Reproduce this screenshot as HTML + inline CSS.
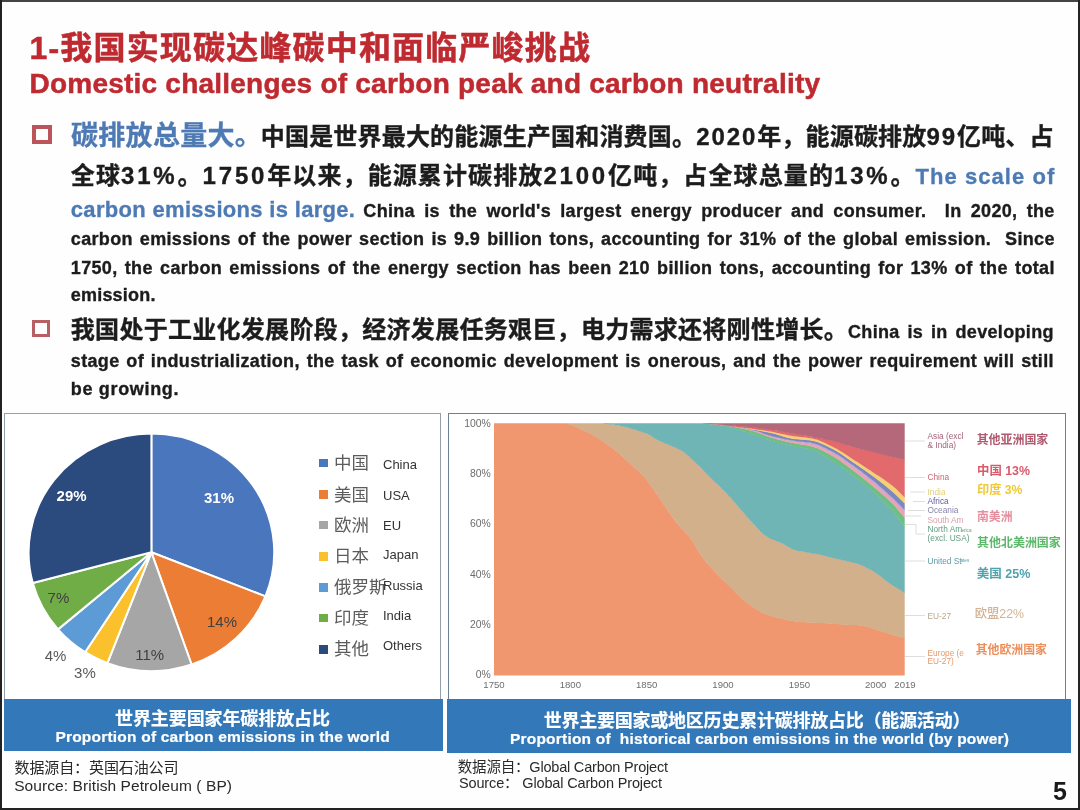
<!DOCTYPE html>
<html lang="zh-CN"><head><meta charset="utf-8"><title>Domestic challenges of carbon peak and carbon neutrality</title>
<style>
html,body{margin:0;padding:0;background:#fff}
body{width:1080px;height:810px;overflow:hidden;font-family:"Liberation Sans","Noto Sans CJK SC",sans-serif}
#slide{position:relative;width:1080px;height:810px;overflow:hidden;background:#fefefe}
#content{position:absolute;left:0;top:0;width:1080px;height:810px;filter:blur(0.4px)}
.ln{position:absolute;margin:0;white-space:pre;line-height:1;font-weight:700;font-family:"Liberation Sans","Noto Sans CJK SC",sans-serif;letter-spacing:var(--ls)}
.dg{letter-spacing:calc(var(--ls) + 1.7px)}
.red{color:#be2a30;-webkit-text-stroke:0.5px #be2a30}.blue{color:#4e7ab4;-webkit-text-stroke:0.3px #4e7ab4}.blk{color:#1c1c1c;-webkit-text-stroke:0.35px #1c1c1c}.wht{color:#fff;-webkit-text-stroke:0.2px #fff}
.ft{color:#2a2a2a;font-weight:400}
.pgn{color:#1a1a1a}
.bul{position:absolute;box-sizing:border-box;width:19.5px;height:19px;border:4px solid #bc5559;background:#fff}
.frame{position:absolute;background:#222}
.panel{position:absolute;box-sizing:border-box;background:#fff}
.banner{position:absolute;background:#3378b9}
svg{position:absolute;left:0;top:0}
svg text{font-family:"Liberation Sans","Noto Sans CJK SC",sans-serif}
.lg{position:absolute;white-space:pre;line-height:1;font-family:"Liberation Sans","Noto Sans CJK SC",sans-serif}
</style></head>
<body>
<div id="slide">
<div id="content">
<div class="panel" style="left:4px;top:413px;width:437px;height:288px;border:1px solid #93a1ae"></div>
<div class="panel" style="left:448px;top:413px;width:618px;height:288px;border:1px solid #6d8196;border-top-width:1.5px"></div>
<div class="banner" style="left:3.5px;top:699px;width:439.5px;height:52px"></div>
<div class="banner" style="left:447px;top:699px;width:624px;height:53.7px"></div>
<svg width="1080" height="810" viewBox="0 0 1080 810">
<path d="M151.40 552.30 L151.40 433.60 A122.80 118.70 0 0 1 265.42 596.38 Z" fill="#4a76be" stroke="#fff" stroke-width="2" stroke-linejoin="round"/>
<path d="M151.40 552.30 L265.42 596.38 A122.80 118.70 0 0 1 191.58 664.47 Z" fill="#ec7d34" stroke="#fff" stroke-width="2" stroke-linejoin="round"/>
<path d="M151.40 552.30 L191.58 664.47 A122.80 118.70 0 0 1 107.39 663.12 Z" fill="#a6a6a6" stroke="#fff" stroke-width="2" stroke-linejoin="round"/>
<path d="M151.40 552.30 L107.39 663.12 A122.80 118.70 0 0 1 85.06 652.19 Z" fill="#fbc12d" stroke="#fff" stroke-width="2" stroke-linejoin="round"/>
<path d="M151.40 552.30 L85.06 652.19 A122.80 118.70 0 0 1 58.02 629.39 Z" fill="#5c9bd5" stroke="#fff" stroke-width="2" stroke-linejoin="round"/>
<path d="M151.40 552.30 L58.02 629.39 A122.80 118.70 0 0 1 32.78 583.02 Z" fill="#70ad47" stroke="#fff" stroke-width="2" stroke-linejoin="round"/>
<path d="M151.40 552.30 L32.78 583.02 A122.80 118.70 0 0 1 151.40 433.60 Z" fill="#2b4a7e" stroke="#fff" stroke-width="2" stroke-linejoin="round"/>
<text x="219.0" y="503.1" text-anchor="middle" font-size="15" font-weight="700" fill="#fff">31%</text>
<text x="71.6" y="500.6" text-anchor="middle" font-size="15" font-weight="700" fill="#fff">29%</text>
<text x="222.0" y="627.4" text-anchor="middle" font-size="15" font-weight="400" fill="#404040">14%</text>
<text x="149.7" y="659.9" text-anchor="middle" font-size="15" font-weight="400" fill="#404040">11%</text>
<text x="58.4" y="603.4" text-anchor="middle" font-size="15" font-weight="400" fill="#404040">7%</text>
<text x="55.5" y="661.0" text-anchor="middle" font-size="15" font-weight="400" fill="#595959">4%</text>
<text x="84.9" y="678.4" text-anchor="middle" font-size="15" font-weight="400" fill="#595959">3%</text>
<polygon points="494.0,423.30 495.5,423.30 497.0,423.30 498.5,423.30 500.0,423.30 501.5,423.30 503.0,423.30 504.5,423.30 506.0,423.30 507.5,423.30 509.0,423.30 510.5,423.30 512.0,423.30 513.5,423.30 515.0,423.30 516.5,423.30 518.0,423.30 519.5,423.30 521.0,423.30 522.5,423.30 524.0,423.30 525.5,423.30 527.0,423.30 528.5,423.30 530.0,423.30 531.5,423.30 533.0,423.30 534.5,423.30 536.0,423.30 537.5,423.30 539.0,423.30 540.5,423.30 542.0,423.30 543.5,423.30 545.0,423.30 546.5,423.30 548.0,423.30 549.5,423.30 551.0,423.30 552.5,423.30 554.0,423.30 555.5,423.30 557.0,423.30 558.5,423.30 560.0,423.30 561.5,423.33 563.0,423.40 564.5,423.50 566.0,423.64 567.5,423.79 569.0,424.02 570.5,424.38 572.0,424.87 573.5,425.46 575.0,426.11 576.5,426.82 578.0,427.55 579.5,428.28 581.0,428.99 582.5,429.67 584.0,430.34 585.5,431.04 587.0,431.76 588.5,432.50 590.0,433.27 591.5,434.06 593.0,434.88 594.5,435.73 596.0,436.62 597.5,437.56 599.0,438.54 600.5,439.55 602.0,440.58 603.5,441.62 605.0,442.68 606.5,443.74 608.0,444.81 609.5,445.88 611.0,446.98 612.5,448.09 614.0,449.22 615.5,450.38 617.0,451.58 618.5,452.80 620.0,454.07 621.5,455.40 623.0,456.77 624.5,458.17 626.0,459.59 627.5,461.01 629.0,462.43 630.5,463.82 632.0,465.17 633.5,466.47 635.0,467.75 636.5,469.04 638.0,470.35 639.5,471.71 641.0,473.14 642.5,474.67 644.0,476.32 645.5,478.11 647.0,480.02 648.5,482.02 650.0,484.10 651.5,486.22 653.0,488.36 654.5,490.51 656.0,492.64 657.5,494.85 659.0,497.11 660.5,499.42 662.0,501.73 663.5,504.03 665.0,506.30 666.5,508.51 668.0,510.65 669.5,512.76 671.0,514.85 672.5,516.91 674.0,518.95 675.5,520.94 677.0,522.88 678.5,524.76 680.0,526.57 681.5,528.26 683.0,529.85 684.5,531.39 686.0,532.93 687.5,534.54 689.0,536.26 690.5,538.16 692.0,540.30 693.5,542.63 695.0,545.10 696.5,547.62 698.0,550.14 699.5,552.59 701.0,554.90 702.5,557.00 704.0,558.99 705.5,560.91 707.0,562.77 708.5,564.58 710.0,566.34 711.5,568.06 713.0,569.73 714.5,571.37 716.0,572.97 717.5,574.54 719.0,576.04 720.5,577.50 722.0,578.91 723.5,580.30 725.0,581.67 726.5,583.05 728.0,584.43 729.5,585.84 731.0,587.29 732.5,588.80 734.0,590.35 735.5,591.92 737.0,593.49 738.5,595.04 740.0,596.54 741.5,597.96 743.0,599.30 744.5,600.57 746.0,601.80 747.5,603.01 749.0,604.16 750.5,605.28 752.0,606.34 753.5,607.34 755.0,608.28 756.5,609.17 758.0,610.03 759.5,610.86 761.0,611.65 762.5,612.40 764.0,613.10 765.5,613.75 767.0,614.35 768.5,614.90 770.0,615.41 771.5,615.90 773.0,616.37 774.5,616.81 776.0,617.22 777.5,617.62 779.0,617.99 780.5,618.34 782.0,618.66 783.5,618.99 785.0,619.31 786.5,619.62 788.0,619.92 789.5,620.22 791.0,620.49 792.5,620.75 794.0,621.00 795.5,621.21 797.0,621.40 798.5,621.57 800.0,621.70 801.5,621.81 803.0,621.90 804.5,621.99 806.0,622.07 807.5,622.14 809.0,622.20 810.5,622.26 812.0,622.32 813.5,622.38 815.0,622.44 816.5,622.50 818.0,622.57 819.5,622.65 821.0,622.73 822.5,622.83 824.0,622.92 825.5,623.02 827.0,623.13 828.5,623.24 830.0,623.34 831.5,623.45 833.0,623.56 834.5,623.67 836.0,623.78 837.5,623.89 839.0,623.99 840.5,624.09 842.0,624.18 843.5,624.26 845.0,624.34 846.5,624.41 848.0,624.48 849.5,624.54 851.0,624.61 852.5,624.69 854.0,624.77 855.5,624.86 857.0,624.96 858.5,625.07 860.0,625.20 861.5,625.34 863.0,625.56 864.5,625.85 866.0,626.21 867.5,626.62 869.0,627.08 870.5,627.56 872.0,628.06 873.5,628.56 875.0,629.05 876.5,629.53 878.0,629.98 879.5,630.43 881.0,630.89 882.5,631.37 884.0,631.85 885.5,632.33 887.0,632.81 888.5,633.29 890.0,633.77 891.5,634.24 893.0,634.69 894.5,635.13 896.0,635.57 897.5,635.99 899.0,636.41 900.5,636.83 902.0,637.25 903.5,637.66 904.7,638.00 904.7,675.40 903.5,675.40 902.0,675.40 900.5,675.40 899.0,675.40 897.5,675.40 896.0,675.40 894.5,675.40 893.0,675.40 891.5,675.40 890.0,675.40 888.5,675.40 887.0,675.40 885.5,675.40 884.0,675.40 882.5,675.40 881.0,675.40 879.5,675.40 878.0,675.40 876.5,675.40 875.0,675.40 873.5,675.40 872.0,675.40 870.5,675.40 869.0,675.40 867.5,675.40 866.0,675.40 864.5,675.40 863.0,675.40 861.5,675.40 860.0,675.40 858.5,675.40 857.0,675.40 855.5,675.40 854.0,675.40 852.5,675.40 851.0,675.40 849.5,675.40 848.0,675.40 846.5,675.40 845.0,675.40 843.5,675.40 842.0,675.40 840.5,675.40 839.0,675.40 837.5,675.40 836.0,675.40 834.5,675.40 833.0,675.40 831.5,675.40 830.0,675.40 828.5,675.40 827.0,675.40 825.5,675.40 824.0,675.40 822.5,675.40 821.0,675.40 819.5,675.40 818.0,675.40 816.5,675.40 815.0,675.40 813.5,675.40 812.0,675.40 810.5,675.40 809.0,675.40 807.5,675.40 806.0,675.40 804.5,675.40 803.0,675.40 801.5,675.40 800.0,675.40 798.5,675.40 797.0,675.40 795.5,675.40 794.0,675.40 792.5,675.40 791.0,675.40 789.5,675.40 788.0,675.40 786.5,675.40 785.0,675.40 783.5,675.40 782.0,675.40 780.5,675.40 779.0,675.40 777.5,675.40 776.0,675.40 774.5,675.40 773.0,675.40 771.5,675.40 770.0,675.40 768.5,675.40 767.0,675.40 765.5,675.40 764.0,675.40 762.5,675.40 761.0,675.40 759.5,675.40 758.0,675.40 756.5,675.40 755.0,675.40 753.5,675.40 752.0,675.40 750.5,675.40 749.0,675.40 747.5,675.40 746.0,675.40 744.5,675.40 743.0,675.40 741.5,675.40 740.0,675.40 738.5,675.40 737.0,675.40 735.5,675.40 734.0,675.40 732.5,675.40 731.0,675.40 729.5,675.40 728.0,675.40 726.5,675.40 725.0,675.40 723.5,675.40 722.0,675.40 720.5,675.40 719.0,675.40 717.5,675.40 716.0,675.40 714.5,675.40 713.0,675.40 711.5,675.40 710.0,675.40 708.5,675.40 707.0,675.40 705.5,675.40 704.0,675.40 702.5,675.40 701.0,675.40 699.5,675.40 698.0,675.40 696.5,675.40 695.0,675.40 693.5,675.40 692.0,675.40 690.5,675.40 689.0,675.40 687.5,675.40 686.0,675.40 684.5,675.40 683.0,675.40 681.5,675.40 680.0,675.40 678.5,675.40 677.0,675.40 675.5,675.40 674.0,675.40 672.5,675.40 671.0,675.40 669.5,675.40 668.0,675.40 666.5,675.40 665.0,675.40 663.5,675.40 662.0,675.40 660.5,675.40 659.0,675.40 657.5,675.40 656.0,675.40 654.5,675.40 653.0,675.40 651.5,675.40 650.0,675.40 648.5,675.40 647.0,675.40 645.5,675.40 644.0,675.40 642.5,675.40 641.0,675.40 639.5,675.40 638.0,675.40 636.5,675.40 635.0,675.40 633.5,675.40 632.0,675.40 630.5,675.40 629.0,675.40 627.5,675.40 626.0,675.40 624.5,675.40 623.0,675.40 621.5,675.40 620.0,675.40 618.5,675.40 617.0,675.40 615.5,675.40 614.0,675.40 612.5,675.40 611.0,675.40 609.5,675.40 608.0,675.40 606.5,675.40 605.0,675.40 603.5,675.40 602.0,675.40 600.5,675.40 599.0,675.40 597.5,675.40 596.0,675.40 594.5,675.40 593.0,675.40 591.5,675.40 590.0,675.40 588.5,675.40 587.0,675.40 585.5,675.40 584.0,675.40 582.5,675.40 581.0,675.40 579.5,675.40 578.0,675.40 576.5,675.40 575.0,675.40 573.5,675.40 572.0,675.40 570.5,675.40 569.0,675.40 567.5,675.40 566.0,675.40 564.5,675.40 563.0,675.40 561.5,675.40 560.0,675.40 558.5,675.40 557.0,675.40 555.5,675.40 554.0,675.40 552.5,675.40 551.0,675.40 549.5,675.40 548.0,675.40 546.5,675.40 545.0,675.40 543.5,675.40 542.0,675.40 540.5,675.40 539.0,675.40 537.5,675.40 536.0,675.40 534.5,675.40 533.0,675.40 531.5,675.40 530.0,675.40 528.5,675.40 527.0,675.40 525.5,675.40 524.0,675.40 522.5,675.40 521.0,675.40 519.5,675.40 518.0,675.40 516.5,675.40 515.0,675.40 513.5,675.40 512.0,675.40 510.5,675.40 509.0,675.40 507.5,675.40 506.0,675.40 504.5,675.40 503.0,675.40 501.5,675.40 500.0,675.40 498.5,675.40 497.0,675.40 495.5,675.40 494.0,675.40" fill="#f0976f"/>
<polygon points="494.0,423.30 495.5,423.30 497.0,423.30 498.5,423.30 500.0,423.30 501.5,423.30 503.0,423.30 504.5,423.30 506.0,423.30 507.5,423.30 509.0,423.30 510.5,423.30 512.0,423.30 513.5,423.30 515.0,423.30 516.5,423.30 518.0,423.30 519.5,423.30 521.0,423.30 522.5,423.30 524.0,423.30 525.5,423.30 527.0,423.30 528.5,423.30 530.0,423.30 531.5,423.30 533.0,423.30 534.5,423.30 536.0,423.30 537.5,423.30 539.0,423.30 540.5,423.30 542.0,423.30 543.5,423.30 545.0,423.30 546.5,423.30 548.0,423.30 549.5,423.30 551.0,423.30 552.5,423.30 554.0,423.30 555.5,423.30 557.0,423.30 558.5,423.30 560.0,423.30 561.5,423.30 563.0,423.30 564.5,423.30 566.0,423.30 567.5,423.30 569.0,423.30 570.5,423.30 572.0,423.30 573.5,423.30 575.0,423.30 576.5,423.30 578.0,423.30 579.5,423.30 581.0,423.30 582.5,423.30 584.0,423.30 585.5,423.30 587.0,423.30 588.5,423.30 590.0,423.30 591.5,423.30 593.0,423.30 594.5,423.30 596.0,423.30 597.5,423.30 599.0,423.30 600.5,423.30 602.0,423.33 603.5,423.40 605.0,423.49 606.5,423.60 608.0,423.73 609.5,423.86 611.0,424.00 612.5,424.17 614.0,424.38 615.5,424.62 617.0,424.88 618.5,425.17 620.0,425.46 621.5,425.77 623.0,426.09 624.5,426.43 626.0,426.81 627.5,427.22 629.0,427.65 630.5,428.09 632.0,428.55 633.5,429.01 635.0,429.46 636.5,429.91 638.0,430.35 639.5,430.79 641.0,431.25 642.5,431.73 644.0,432.24 645.5,432.80 647.0,433.40 648.5,434.10 650.0,434.93 651.5,435.84 653.0,436.81 654.5,437.79 656.0,438.74 657.5,439.64 659.0,440.45 660.5,441.16 662.0,441.80 663.5,442.41 665.0,442.99 666.5,443.56 668.0,444.14 669.5,444.74 671.0,445.38 672.5,446.05 674.0,446.73 675.5,447.41 677.0,448.11 678.5,448.84 680.0,449.62 681.5,450.45 683.0,451.35 684.5,452.35 686.0,453.51 687.5,454.81 689.0,456.19 690.5,457.60 692.0,459.00 693.5,460.39 695.0,461.81 696.5,463.26 698.0,464.73 699.5,466.21 701.0,467.71 702.5,469.23 704.0,470.74 705.5,472.26 707.0,473.78 708.5,475.30 710.0,476.80 711.5,478.29 713.0,479.78 714.5,481.26 716.0,482.73 717.5,484.20 719.0,485.68 720.5,487.16 722.0,488.65 723.5,490.15 725.0,491.67 726.5,493.20 728.0,494.75 729.5,496.32 731.0,497.92 732.5,499.57 734.0,501.26 735.5,502.98 737.0,504.74 738.5,506.51 740.0,508.30 741.5,510.08 743.0,511.87 744.5,513.63 746.0,515.37 747.5,517.08 749.0,518.75 750.5,520.37 752.0,521.95 753.5,523.57 755.0,525.21 756.5,526.85 758.0,528.47 759.5,530.04 761.0,531.55 762.5,532.97 764.0,534.27 765.5,535.44 767.0,536.46 768.5,537.32 770.0,538.07 771.5,538.75 773.0,539.37 774.5,539.95 776.0,540.51 777.5,541.07 779.0,541.65 780.5,542.27 782.0,542.94 783.5,543.70 785.0,544.53 786.5,545.40 788.0,546.29 789.5,547.15 791.0,547.98 792.5,548.73 794.0,549.37 795.5,549.89 797.0,550.28 798.5,550.62 800.0,550.92 801.5,551.20 803.0,551.45 804.5,551.68 806.0,551.89 807.5,552.10 809.0,552.31 810.5,552.52 812.0,552.74 813.5,552.98 815.0,553.25 816.5,553.54 818.0,553.86 819.5,554.20 821.0,554.55 822.5,554.92 824.0,555.30 825.5,555.69 827.0,556.08 828.5,556.48 830.0,556.88 831.5,557.27 833.0,557.67 834.5,558.05 836.0,558.43 837.5,558.79 839.0,559.14 840.5,559.47 842.0,559.79 843.5,560.10 845.0,560.42 846.5,560.74 848.0,561.06 849.5,561.40 851.0,561.75 852.5,562.12 854.0,562.52 855.5,562.94 857.0,563.40 858.5,563.90 860.0,564.45 861.5,565.05 863.0,565.70 864.5,566.38 866.0,567.09 867.5,567.85 869.0,568.63 870.5,569.43 872.0,570.26 873.5,571.12 875.0,572.04 876.5,573.04 878.0,574.12 879.5,575.26 881.0,576.43 882.5,577.62 884.0,578.81 885.5,579.99 887.0,581.14 888.5,582.23 890.0,583.27 891.5,584.27 893.0,585.24 894.5,586.19 896.0,587.13 897.5,588.06 899.0,588.98 900.5,589.90 902.0,590.82 903.5,591.75 904.7,592.50 904.7,638.40 903.5,638.06 902.0,637.65 900.5,637.23 899.0,636.81 897.5,636.39 896.0,635.97 894.5,635.53 893.0,635.09 891.5,634.64 890.0,634.17 888.5,633.69 887.0,633.21 885.5,632.73 884.0,632.25 882.5,631.77 881.0,631.29 879.5,630.83 878.0,630.38 876.5,629.93 875.0,629.45 873.5,628.96 872.0,628.46 870.5,627.96 869.0,627.48 867.5,627.02 866.0,626.61 864.5,626.25 863.0,625.96 861.5,625.74 860.0,625.60 858.5,625.47 857.0,625.36 855.5,625.26 854.0,625.17 852.5,625.09 851.0,625.01 849.5,624.94 848.0,624.88 846.5,624.81 845.0,624.74 843.5,624.66 842.0,624.58 840.5,624.49 839.0,624.39 837.5,624.29 836.0,624.18 834.5,624.07 833.0,623.96 831.5,623.85 830.0,623.74 828.5,623.64 827.0,623.53 825.5,623.42 824.0,623.32 822.5,623.23 821.0,623.13 819.5,623.05 818.0,622.97 816.5,622.90 815.0,622.84 813.5,622.78 812.0,622.72 810.5,622.66 809.0,622.60 807.5,622.54 806.0,622.47 804.5,622.39 803.0,622.30 801.5,622.21 800.0,622.10 798.5,621.97 797.0,621.80 795.5,621.61 794.0,621.40 792.5,621.15 791.0,620.89 789.5,620.62 788.0,620.32 786.5,620.02 785.0,619.71 783.5,619.39 782.0,619.06 780.5,618.74 779.0,618.39 777.5,618.02 776.0,617.62 774.5,617.21 773.0,616.77 771.5,616.30 770.0,615.81 768.5,615.30 767.0,614.75 765.5,614.15 764.0,613.50 762.5,612.80 761.0,612.05 759.5,611.26 758.0,610.43 756.5,609.57 755.0,608.68 753.5,607.74 752.0,606.74 750.5,605.68 749.0,604.56 747.5,603.41 746.0,602.20 744.5,600.97 743.0,599.70 741.5,598.36 740.0,596.94 738.5,595.44 737.0,593.89 735.5,592.32 734.0,590.75 732.5,589.20 731.0,587.69 729.5,586.24 728.0,584.83 726.5,583.45 725.0,582.07 723.5,580.70 722.0,579.31 720.5,577.90 719.0,576.44 717.5,574.94 716.0,573.37 714.5,571.77 713.0,570.13 711.5,568.46 710.0,566.74 708.5,564.98 707.0,563.17 705.5,561.31 704.0,559.39 702.5,557.40 701.0,555.30 699.5,552.99 698.0,550.54 696.5,548.02 695.0,545.50 693.5,543.03 692.0,540.70 690.5,538.56 689.0,536.66 687.5,534.94 686.0,533.33 684.5,531.79 683.0,530.25 681.5,528.66 680.0,526.97 678.5,525.16 677.0,523.28 675.5,521.34 674.0,519.35 672.5,517.31 671.0,515.25 669.5,513.16 668.0,511.05 666.5,508.91 665.0,506.70 663.5,504.43 662.0,502.13 660.5,499.82 659.0,497.51 657.5,495.25 656.0,493.04 654.5,490.91 653.0,488.76 651.5,486.62 650.0,484.50 648.5,482.42 647.0,480.42 645.5,478.51 644.0,476.72 642.5,475.07 641.0,473.54 639.5,472.11 638.0,470.75 636.5,469.44 635.0,468.15 633.5,466.87 632.0,465.57 630.5,464.22 629.0,462.83 627.5,461.41 626.0,459.99 624.5,458.57 623.0,457.17 621.5,455.80 620.0,454.47 618.5,453.20 617.0,451.98 615.5,450.78 614.0,449.62 612.5,448.49 611.0,447.38 609.5,446.28 608.0,445.21 606.5,444.14 605.0,443.08 603.5,442.02 602.0,440.98 600.5,439.95 599.0,438.94 597.5,437.96 596.0,437.02 594.5,436.13 593.0,435.28 591.5,434.46 590.0,433.67 588.5,432.90 587.0,432.16 585.5,431.44 584.0,430.74 582.5,430.07 581.0,429.39 579.5,428.68 578.0,427.95 576.5,427.22 575.0,426.51 573.5,425.86 572.0,425.27 570.5,424.78 569.0,424.42 567.5,424.19 566.0,424.04 564.5,423.90 563.0,423.80 561.5,423.33 560.0,423.30 558.5,423.30 557.0,423.30 555.5,423.30 554.0,423.30 552.5,423.30 551.0,423.30 549.5,423.30 548.0,423.30 546.5,423.30 545.0,423.30 543.5,423.30 542.0,423.30 540.5,423.30 539.0,423.30 537.5,423.30 536.0,423.30 534.5,423.30 533.0,423.30 531.5,423.30 530.0,423.30 528.5,423.30 527.0,423.30 525.5,423.30 524.0,423.30 522.5,423.30 521.0,423.30 519.5,423.30 518.0,423.30 516.5,423.30 515.0,423.30 513.5,423.30 512.0,423.30 510.5,423.30 509.0,423.30 507.5,423.30 506.0,423.30 504.5,423.30 503.0,423.30 501.5,423.30 500.0,423.30 498.5,423.30 497.0,423.30 495.5,423.30 494.0,423.30" fill="#d3b08c"/>
<polygon points="494.0,423.30 495.5,423.30 497.0,423.30 498.5,423.30 500.0,423.30 501.5,423.30 503.0,423.30 504.5,423.30 506.0,423.30 507.5,423.30 509.0,423.30 510.5,423.30 512.0,423.30 513.5,423.30 515.0,423.30 516.5,423.30 518.0,423.30 519.5,423.30 521.0,423.30 522.5,423.30 524.0,423.30 525.5,423.30 527.0,423.30 528.5,423.30 530.0,423.30 531.5,423.30 533.0,423.30 534.5,423.30 536.0,423.30 537.5,423.30 539.0,423.30 540.5,423.30 542.0,423.30 543.5,423.30 545.0,423.30 546.5,423.30 548.0,423.30 549.5,423.30 551.0,423.30 552.5,423.30 554.0,423.30 555.5,423.30 557.0,423.30 558.5,423.30 560.0,423.30 561.5,423.30 563.0,423.30 564.5,423.30 566.0,423.30 567.5,423.30 569.0,423.30 570.5,423.30 572.0,423.30 573.5,423.30 575.0,423.30 576.5,423.30 578.0,423.30 579.5,423.30 581.0,423.30 582.5,423.30 584.0,423.30 585.5,423.30 587.0,423.30 588.5,423.30 590.0,423.30 591.5,423.30 593.0,423.30 594.5,423.30 596.0,423.30 597.5,423.30 599.0,423.30 600.5,423.30 602.0,423.30 603.5,423.30 605.0,423.30 606.5,423.30 608.0,423.30 609.5,423.30 611.0,423.30 612.5,423.30 614.0,423.30 615.5,423.30 617.0,423.30 618.5,423.30 620.0,423.30 621.5,423.30 623.0,423.30 624.5,423.30 626.0,423.30 627.5,423.30 629.0,423.30 630.5,423.30 632.0,423.30 633.5,423.30 635.0,423.30 636.5,423.30 638.0,423.30 639.5,423.30 641.0,423.30 642.5,423.30 644.0,423.30 645.5,423.30 647.0,423.30 648.5,423.30 650.0,423.30 651.5,423.30 653.0,423.30 654.5,423.30 656.0,423.30 657.5,423.30 659.0,423.30 660.5,423.30 662.0,423.30 663.5,423.30 665.0,423.30 666.5,423.30 668.0,423.30 669.5,423.30 671.0,423.30 672.5,423.30 674.0,423.30 675.5,423.30 677.0,423.30 678.5,423.30 680.0,423.30 681.5,423.30 683.0,423.30 684.5,423.30 686.0,423.30 687.5,423.30 689.0,423.30 690.5,423.30 692.0,423.30 693.5,423.30 695.0,423.30 696.5,423.30 698.0,423.30 699.5,423.30 701.0,423.31 702.5,423.34 704.0,423.41 705.5,423.50 707.0,423.61 708.5,423.74 710.0,423.88 711.5,424.04 713.0,424.20 714.5,424.37 716.0,424.54 717.5,424.72 719.0,424.92 720.5,425.16 722.0,425.42 723.5,425.70 725.0,426.01 726.5,426.34 728.0,426.69 729.5,427.05 731.0,427.44 732.5,427.84 734.0,428.25 735.5,428.67 737.0,429.11 738.5,429.55 740.0,430.00 741.5,430.46 743.0,430.92 744.5,431.38 746.0,431.84 747.5,432.31 749.0,432.76 750.5,433.22 752.0,433.68 753.5,434.16 755.0,434.68 756.5,435.22 758.0,435.77 759.5,436.34 761.0,436.91 762.5,437.48 764.0,438.05 765.5,438.61 767.0,439.14 768.5,439.66 770.0,440.15 771.5,440.60 773.0,441.03 774.5,441.44 776.0,441.84 777.5,442.23 779.0,442.61 780.5,442.98 782.0,443.34 783.5,443.70 785.0,444.05 786.5,444.39 788.0,444.73 789.5,445.07 791.0,445.40 792.5,445.73 794.0,446.04 795.5,446.33 797.0,446.60 798.5,446.86 800.0,447.11 801.5,447.37 803.0,447.63 804.5,447.90 806.0,448.19 807.5,448.51 809.0,448.85 810.5,449.23 812.0,449.64 813.5,450.12 815.0,450.69 816.5,451.33 818.0,452.05 819.5,452.83 821.0,453.67 822.5,454.54 824.0,455.45 825.5,456.39 827.0,457.35 828.5,458.31 830.0,459.27 831.5,460.22 833.0,461.15 834.5,462.09 836.0,463.06 837.5,464.05 839.0,465.06 840.5,466.10 842.0,467.15 843.5,468.21 845.0,469.29 846.5,470.38 848.0,471.48 849.5,472.59 851.0,473.71 852.5,474.83 854.0,475.95 855.5,477.08 857.0,478.22 858.5,479.36 860.0,480.52 861.5,481.69 863.0,482.87 864.5,484.07 866.0,485.28 867.5,486.52 869.0,487.77 870.5,489.05 872.0,490.35 873.5,491.68 875.0,493.02 876.5,494.38 878.0,495.75 879.5,497.14 881.0,498.56 882.5,500.00 884.0,501.47 885.5,502.97 887.0,504.51 888.5,506.09 890.0,507.70 891.5,509.37 893.0,511.08 894.5,512.86 896.0,514.77 897.5,516.80 899.0,518.89 900.5,521.04 902.0,523.20 903.5,525.33 904.7,527.00 904.7,592.90 903.5,592.15 902.0,591.22 900.5,590.30 899.0,589.38 897.5,588.46 896.0,587.53 894.5,586.59 893.0,585.64 891.5,584.67 890.0,583.67 888.5,582.63 887.0,581.54 885.5,580.39 884.0,579.21 882.5,578.02 881.0,576.83 879.5,575.66 878.0,574.52 876.5,573.44 875.0,572.44 873.5,571.52 872.0,570.66 870.5,569.83 869.0,569.03 867.5,568.25 866.0,567.49 864.5,566.78 863.0,566.10 861.5,565.45 860.0,564.85 858.5,564.30 857.0,563.80 855.5,563.34 854.0,562.92 852.5,562.52 851.0,562.15 849.5,561.80 848.0,561.46 846.5,561.14 845.0,560.82 843.5,560.50 842.0,560.19 840.5,559.87 839.0,559.54 837.5,559.19 836.0,558.83 834.5,558.45 833.0,558.07 831.5,557.67 830.0,557.28 828.5,556.88 827.0,556.48 825.5,556.09 824.0,555.70 822.5,555.32 821.0,554.95 819.5,554.60 818.0,554.26 816.5,553.94 815.0,553.65 813.5,553.38 812.0,553.14 810.5,552.92 809.0,552.71 807.5,552.50 806.0,552.29 804.5,552.08 803.0,551.85 801.5,551.60 800.0,551.32 798.5,551.02 797.0,550.68 795.5,550.29 794.0,549.77 792.5,549.13 791.0,548.38 789.5,547.55 788.0,546.69 786.5,545.80 785.0,544.93 783.5,544.10 782.0,543.34 780.5,542.67 779.0,542.05 777.5,541.47 776.0,540.91 774.5,540.35 773.0,539.77 771.5,539.15 770.0,538.47 768.5,537.72 767.0,536.86 765.5,535.84 764.0,534.67 762.5,533.37 761.0,531.95 759.5,530.44 758.0,528.87 756.5,527.25 755.0,525.61 753.5,523.97 752.0,522.35 750.5,520.77 749.0,519.15 747.5,517.48 746.0,515.77 744.5,514.03 743.0,512.27 741.5,510.48 740.0,508.70 738.5,506.91 737.0,505.14 735.5,503.38 734.0,501.66 732.5,499.97 731.0,498.32 729.5,496.72 728.0,495.15 726.5,493.60 725.0,492.07 723.5,490.55 722.0,489.05 720.5,487.56 719.0,486.08 717.5,484.60 716.0,483.13 714.5,481.66 713.0,480.18 711.5,478.69 710.0,477.20 708.5,475.70 707.0,474.18 705.5,472.66 704.0,471.14 702.5,469.63 701.0,468.11 699.5,466.61 698.0,465.13 696.5,463.66 695.0,462.21 693.5,460.79 692.0,459.40 690.5,458.00 689.0,456.59 687.5,455.21 686.0,453.91 684.5,452.75 683.0,451.75 681.5,450.85 680.0,450.02 678.5,449.24 677.0,448.51 675.5,447.81 674.0,447.13 672.5,446.45 671.0,445.78 669.5,445.14 668.0,444.54 666.5,443.96 665.0,443.39 663.5,442.81 662.0,442.20 660.5,441.56 659.0,440.85 657.5,440.04 656.0,439.14 654.5,438.19 653.0,437.21 651.5,436.24 650.0,435.33 648.5,434.50 647.0,433.80 645.5,433.20 644.0,432.64 642.5,432.13 641.0,431.65 639.5,431.19 638.0,430.75 636.5,430.31 635.0,429.86 633.5,429.41 632.0,428.95 630.5,428.49 629.0,428.05 627.5,427.62 626.0,427.21 624.5,426.83 623.0,426.49 621.5,426.17 620.0,425.86 618.5,425.57 617.0,425.28 615.5,425.02 614.0,424.78 612.5,424.57 611.0,424.40 609.5,424.26 608.0,424.13 606.5,424.00 605.0,423.89 603.5,423.80 602.0,423.33 600.5,423.30 599.0,423.30 597.5,423.30 596.0,423.30 594.5,423.30 593.0,423.30 591.5,423.30 590.0,423.30 588.5,423.30 587.0,423.30 585.5,423.30 584.0,423.30 582.5,423.30 581.0,423.30 579.5,423.30 578.0,423.30 576.5,423.30 575.0,423.30 573.5,423.30 572.0,423.30 570.5,423.30 569.0,423.30 567.5,423.30 566.0,423.30 564.5,423.30 563.0,423.30 561.5,423.30 560.0,423.30 558.5,423.30 557.0,423.30 555.5,423.30 554.0,423.30 552.5,423.30 551.0,423.30 549.5,423.30 548.0,423.30 546.5,423.30 545.0,423.30 543.5,423.30 542.0,423.30 540.5,423.30 539.0,423.30 537.5,423.30 536.0,423.30 534.5,423.30 533.0,423.30 531.5,423.30 530.0,423.30 528.5,423.30 527.0,423.30 525.5,423.30 524.0,423.30 522.5,423.30 521.0,423.30 519.5,423.30 518.0,423.30 516.5,423.30 515.0,423.30 513.5,423.30 512.0,423.30 510.5,423.30 509.0,423.30 507.5,423.30 506.0,423.30 504.5,423.30 503.0,423.30 501.5,423.30 500.0,423.30 498.5,423.30 497.0,423.30 495.5,423.30 494.0,423.30" fill="#70b5b6"/>
<polygon points="494.0,423.30 495.5,423.30 497.0,423.30 498.5,423.30 500.0,423.30 501.5,423.30 503.0,423.30 504.5,423.30 506.0,423.30 507.5,423.30 509.0,423.30 510.5,423.30 512.0,423.30 513.5,423.30 515.0,423.30 516.5,423.30 518.0,423.30 519.5,423.30 521.0,423.30 522.5,423.30 524.0,423.30 525.5,423.30 527.0,423.30 528.5,423.30 530.0,423.30 531.5,423.30 533.0,423.30 534.5,423.30 536.0,423.30 537.5,423.30 539.0,423.30 540.5,423.30 542.0,423.30 543.5,423.30 545.0,423.30 546.5,423.30 548.0,423.30 549.5,423.30 551.0,423.30 552.5,423.30 554.0,423.30 555.5,423.30 557.0,423.30 558.5,423.30 560.0,423.30 561.5,423.30 563.0,423.30 564.5,423.30 566.0,423.30 567.5,423.30 569.0,423.30 570.5,423.30 572.0,423.30 573.5,423.30 575.0,423.30 576.5,423.30 578.0,423.30 579.5,423.30 581.0,423.30 582.5,423.30 584.0,423.30 585.5,423.30 587.0,423.30 588.5,423.30 590.0,423.30 591.5,423.30 593.0,423.30 594.5,423.30 596.0,423.30 597.5,423.30 599.0,423.30 600.5,423.30 602.0,423.30 603.5,423.30 605.0,423.30 606.5,423.30 608.0,423.30 609.5,423.30 611.0,423.30 612.5,423.30 614.0,423.30 615.5,423.30 617.0,423.30 618.5,423.30 620.0,423.30 621.5,423.30 623.0,423.30 624.5,423.30 626.0,423.30 627.5,423.30 629.0,423.30 630.5,423.30 632.0,423.30 633.5,423.30 635.0,423.30 636.5,423.30 638.0,423.30 639.5,423.30 641.0,423.30 642.5,423.30 644.0,423.30 645.5,423.30 647.0,423.30 648.5,423.30 650.0,423.30 651.5,423.30 653.0,423.30 654.5,423.30 656.0,423.30 657.5,423.30 659.0,423.30 660.5,423.30 662.0,423.30 663.5,423.30 665.0,423.30 666.5,423.30 668.0,423.30 669.5,423.30 671.0,423.30 672.5,423.30 674.0,423.30 675.5,423.30 677.0,423.30 678.5,423.30 680.0,423.30 681.5,423.30 683.0,423.30 684.5,423.30 686.0,423.30 687.5,423.30 689.0,423.30 690.5,423.30 692.0,423.30 693.5,423.30 695.0,423.30 696.5,423.30 698.0,423.30 699.5,423.30 701.0,423.31 702.5,423.33 704.0,423.39 705.5,423.46 707.0,423.54 708.5,423.64 710.0,423.75 711.5,423.87 713.0,424.00 714.5,424.13 716.0,424.26 717.5,424.39 719.0,424.53 720.5,424.69 722.0,424.87 723.5,425.06 725.0,425.26 726.5,425.47 728.0,425.70 729.5,425.93 731.0,426.18 732.5,426.44 734.0,426.71 735.5,426.99 737.0,427.28 738.5,427.58 740.0,427.89 741.5,428.21 743.0,428.53 744.5,428.86 746.0,429.20 747.5,429.55 749.0,429.90 750.5,430.26 752.0,430.63 753.5,431.05 755.0,431.52 756.5,432.03 758.0,432.57 759.5,433.13 761.0,433.71 762.5,434.29 764.0,434.87 765.5,435.45 767.0,436.01 768.5,436.54 770.0,437.04 771.5,437.50 773.0,437.93 774.5,438.35 776.0,438.77 777.5,439.17 779.0,439.57 780.5,439.95 782.0,440.33 783.5,440.70 785.0,441.06 786.5,441.41 788.0,441.75 789.5,442.08 791.0,442.41 792.5,442.72 794.0,443.02 795.5,443.28 797.0,443.53 798.5,443.77 800.0,444.01 801.5,444.24 803.0,444.47 804.5,444.71 806.0,444.97 807.5,445.25 809.0,445.55 810.5,445.88 812.0,446.25 813.5,446.67 815.0,447.15 816.5,447.69 818.0,448.28 819.5,448.93 821.0,449.62 822.5,450.34 824.0,451.10 825.5,451.88 827.0,452.69 828.5,453.51 830.0,454.34 831.5,455.18 833.0,456.03 834.5,456.90 836.0,457.83 837.5,458.79 839.0,459.79 840.5,460.83 842.0,461.89 843.5,462.98 845.0,464.08 846.5,465.20 848.0,466.33 849.5,467.46 851.0,468.60 852.5,469.73 854.0,470.85 855.5,471.99 857.0,473.14 858.5,474.31 860.0,475.49 861.5,476.68 863.0,477.88 864.5,479.09 866.0,480.31 867.5,481.55 869.0,482.79 870.5,484.04 872.0,485.30 873.5,486.57 875.0,487.84 876.5,489.10 878.0,490.37 879.5,491.64 881.0,492.93 882.5,494.22 884.0,495.53 885.5,496.87 887.0,498.23 888.5,499.61 890.0,501.03 891.5,502.49 893.0,503.99 894.5,505.54 896.0,507.18 897.5,508.90 899.0,510.67 900.5,512.48 902.0,514.29 903.5,516.09 904.7,517.50 904.7,527.40 903.5,525.73 902.0,523.60 900.5,521.44 899.0,519.29 897.5,517.20 896.0,515.17 894.5,513.26 893.0,511.48 891.5,509.77 890.0,508.10 888.5,506.49 887.0,504.91 885.5,503.37 884.0,501.87 882.5,500.40 881.0,498.96 879.5,497.54 878.0,496.15 876.5,494.78 875.0,493.42 873.5,492.08 872.0,490.75 870.5,489.45 869.0,488.17 867.5,486.92 866.0,485.68 864.5,484.47 863.0,483.27 861.5,482.09 860.0,480.92 858.5,479.76 857.0,478.62 855.5,477.48 854.0,476.35 852.5,475.23 851.0,474.11 849.5,472.99 848.0,471.88 846.5,470.78 845.0,469.69 843.5,468.61 842.0,467.55 840.5,466.50 839.0,465.46 837.5,464.45 836.0,463.46 834.5,462.49 833.0,461.55 831.5,460.62 830.0,459.67 828.5,458.71 827.0,457.75 825.5,456.79 824.0,455.85 822.5,454.94 821.0,454.07 819.5,453.23 818.0,452.45 816.5,451.73 815.0,451.09 813.5,450.52 812.0,450.04 810.5,449.63 809.0,449.25 807.5,448.91 806.0,448.59 804.5,448.30 803.0,448.03 801.5,447.77 800.0,447.51 798.5,447.26 797.0,447.00 795.5,446.73 794.0,446.44 792.5,446.13 791.0,445.80 789.5,445.47 788.0,445.13 786.5,444.79 785.0,444.45 783.5,444.10 782.0,443.74 780.5,443.38 779.0,443.01 777.5,442.63 776.0,442.24 774.5,441.84 773.0,441.43 771.5,441.00 770.0,440.55 768.5,440.06 767.0,439.54 765.5,439.01 764.0,438.45 762.5,437.88 761.0,437.31 759.5,436.74 758.0,436.17 756.5,435.62 755.0,435.08 753.5,434.56 752.0,434.08 750.5,433.62 749.0,433.16 747.5,432.71 746.0,432.24 744.5,431.78 743.0,431.32 741.5,430.86 740.0,430.40 738.5,429.95 737.0,429.51 735.5,429.07 734.0,428.65 732.5,428.24 731.0,427.84 729.5,427.45 728.0,427.09 726.5,426.74 725.0,426.41 723.5,426.10 722.0,425.82 720.5,425.56 719.0,425.32 717.5,425.12 716.0,424.94 714.5,424.77 713.0,424.60 711.5,424.44 710.0,424.28 708.5,424.14 707.0,424.01 705.5,423.50 704.0,423.41 702.5,423.34 701.0,423.31 699.5,423.30 698.0,423.30 696.5,423.30 695.0,423.30 693.5,423.30 692.0,423.30 690.5,423.30 689.0,423.30 687.5,423.30 686.0,423.30 684.5,423.30 683.0,423.30 681.5,423.30 680.0,423.30 678.5,423.30 677.0,423.30 675.5,423.30 674.0,423.30 672.5,423.30 671.0,423.30 669.5,423.30 668.0,423.30 666.5,423.30 665.0,423.30 663.5,423.30 662.0,423.30 660.5,423.30 659.0,423.30 657.5,423.30 656.0,423.30 654.5,423.30 653.0,423.30 651.5,423.30 650.0,423.30 648.5,423.30 647.0,423.30 645.5,423.30 644.0,423.30 642.5,423.30 641.0,423.30 639.5,423.30 638.0,423.30 636.5,423.30 635.0,423.30 633.5,423.30 632.0,423.30 630.5,423.30 629.0,423.30 627.5,423.30 626.0,423.30 624.5,423.30 623.0,423.30 621.5,423.30 620.0,423.30 618.5,423.30 617.0,423.30 615.5,423.30 614.0,423.30 612.5,423.30 611.0,423.30 609.5,423.30 608.0,423.30 606.5,423.30 605.0,423.30 603.5,423.30 602.0,423.30 600.5,423.30 599.0,423.30 597.5,423.30 596.0,423.30 594.5,423.30 593.0,423.30 591.5,423.30 590.0,423.30 588.5,423.30 587.0,423.30 585.5,423.30 584.0,423.30 582.5,423.30 581.0,423.30 579.5,423.30 578.0,423.30 576.5,423.30 575.0,423.30 573.5,423.30 572.0,423.30 570.5,423.30 569.0,423.30 567.5,423.30 566.0,423.30 564.5,423.30 563.0,423.30 561.5,423.30 560.0,423.30 558.5,423.30 557.0,423.30 555.5,423.30 554.0,423.30 552.5,423.30 551.0,423.30 549.5,423.30 548.0,423.30 546.5,423.30 545.0,423.30 543.5,423.30 542.0,423.30 540.5,423.30 539.0,423.30 537.5,423.30 536.0,423.30 534.5,423.30 533.0,423.30 531.5,423.30 530.0,423.30 528.5,423.30 527.0,423.30 525.5,423.30 524.0,423.30 522.5,423.30 521.0,423.30 519.5,423.30 518.0,423.30 516.5,423.30 515.0,423.30 513.5,423.30 512.0,423.30 510.5,423.30 509.0,423.30 507.5,423.30 506.0,423.30 504.5,423.30 503.0,423.30 501.5,423.30 500.0,423.30 498.5,423.30 497.0,423.30 495.5,423.30 494.0,423.30" fill="#6dbf82"/>
<polygon points="494.0,423.30 495.5,423.30 497.0,423.30 498.5,423.30 500.0,423.30 501.5,423.30 503.0,423.30 504.5,423.30 506.0,423.30 507.5,423.30 509.0,423.30 510.5,423.30 512.0,423.30 513.5,423.30 515.0,423.30 516.5,423.30 518.0,423.30 519.5,423.30 521.0,423.30 522.5,423.30 524.0,423.30 525.5,423.30 527.0,423.30 528.5,423.30 530.0,423.30 531.5,423.30 533.0,423.30 534.5,423.30 536.0,423.30 537.5,423.30 539.0,423.30 540.5,423.30 542.0,423.30 543.5,423.30 545.0,423.30 546.5,423.30 548.0,423.30 549.5,423.30 551.0,423.30 552.5,423.30 554.0,423.30 555.5,423.30 557.0,423.30 558.5,423.30 560.0,423.30 561.5,423.30 563.0,423.30 564.5,423.30 566.0,423.30 567.5,423.30 569.0,423.30 570.5,423.30 572.0,423.30 573.5,423.30 575.0,423.30 576.5,423.30 578.0,423.30 579.5,423.30 581.0,423.30 582.5,423.30 584.0,423.30 585.5,423.30 587.0,423.30 588.5,423.30 590.0,423.30 591.5,423.30 593.0,423.30 594.5,423.30 596.0,423.30 597.5,423.30 599.0,423.30 600.5,423.30 602.0,423.30 603.5,423.30 605.0,423.30 606.5,423.30 608.0,423.30 609.5,423.30 611.0,423.30 612.5,423.30 614.0,423.30 615.5,423.30 617.0,423.30 618.5,423.30 620.0,423.30 621.5,423.30 623.0,423.30 624.5,423.30 626.0,423.30 627.5,423.30 629.0,423.30 630.5,423.30 632.0,423.30 633.5,423.30 635.0,423.30 636.5,423.30 638.0,423.30 639.5,423.30 641.0,423.30 642.5,423.30 644.0,423.30 645.5,423.30 647.0,423.30 648.5,423.30 650.0,423.30 651.5,423.30 653.0,423.30 654.5,423.30 656.0,423.30 657.5,423.30 659.0,423.30 660.5,423.30 662.0,423.30 663.5,423.30 665.0,423.30 666.5,423.30 668.0,423.30 669.5,423.30 671.0,423.30 672.5,423.30 674.0,423.30 675.5,423.30 677.0,423.30 678.5,423.30 680.0,423.30 681.5,423.30 683.0,423.30 684.5,423.30 686.0,423.30 687.5,423.30 689.0,423.30 690.5,423.30 692.0,423.30 693.5,423.30 695.0,423.30 696.5,423.30 698.0,423.30 699.5,423.30 701.0,423.31 702.5,423.33 704.0,423.38 705.5,423.44 707.0,423.52 708.5,423.61 710.0,423.71 711.5,423.82 713.0,423.93 714.5,424.05 716.0,424.16 717.5,424.28 719.0,424.41 720.5,424.55 722.0,424.70 723.5,424.87 725.0,425.04 726.5,425.23 728.0,425.43 729.5,425.64 731.0,425.85 732.5,426.08 734.0,426.32 735.5,426.57 737.0,426.82 738.5,427.08 740.0,427.36 741.5,427.64 743.0,427.92 744.5,428.22 746.0,428.52 747.5,428.83 749.0,429.15 750.5,429.47 752.0,429.81 753.5,430.20 755.0,430.63 756.5,431.11 758.0,431.62 759.5,432.16 761.0,432.71 762.5,433.26 764.0,433.82 765.5,434.36 767.0,434.89 768.5,435.40 770.0,435.87 771.5,436.30 773.0,436.70 774.5,437.10 776.0,437.49 777.5,437.88 779.0,438.25 780.5,438.62 782.0,438.97 783.5,439.32 785.0,439.65 786.5,439.97 788.0,440.27 789.5,440.57 791.0,440.84 792.5,441.10 794.0,441.33 795.5,441.54 797.0,441.73 798.5,441.91 800.0,442.08 801.5,442.24 803.0,442.41 804.5,442.59 806.0,442.77 807.5,442.98 809.0,443.21 810.5,443.47 812.0,443.76 813.5,444.10 815.0,444.52 816.5,445.01 818.0,445.56 819.5,446.17 821.0,446.82 822.5,447.52 824.0,448.25 825.5,449.02 827.0,449.80 828.5,450.60 830.0,451.40 831.5,452.21 833.0,453.02 834.5,453.86 836.0,454.74 837.5,455.67 839.0,456.64 840.5,457.64 842.0,458.66 843.5,459.71 845.0,460.78 846.5,461.87 848.0,462.96 849.5,464.05 851.0,465.15 852.5,466.24 854.0,467.32 855.5,468.42 857.0,469.52 858.5,470.64 860.0,471.77 861.5,472.91 863.0,474.06 864.5,475.22 866.0,476.40 867.5,477.58 869.0,478.78 870.5,480.00 872.0,481.23 873.5,482.47 875.0,483.72 876.5,485.00 878.0,486.29 879.5,487.60 881.0,488.92 882.5,490.26 884.0,491.61 885.5,492.97 887.0,494.34 888.5,495.73 890.0,497.12 891.5,498.53 893.0,499.94 894.5,501.36 896.0,502.81 897.5,504.29 899.0,505.79 900.5,507.29 902.0,508.80 903.5,510.31 904.7,511.50 904.7,517.90 903.5,516.49 902.0,514.69 900.5,512.88 899.0,511.07 897.5,509.30 896.0,507.58 894.5,505.94 893.0,504.39 891.5,502.89 890.0,501.43 888.5,500.01 887.0,498.63 885.5,497.27 884.0,495.93 882.5,494.62 881.0,493.33 879.5,492.04 878.0,490.77 876.5,489.50 875.0,488.24 873.5,486.97 872.0,485.70 870.5,484.44 869.0,483.19 867.5,481.95 866.0,480.71 864.5,479.49 863.0,478.28 861.5,477.08 860.0,475.89 858.5,474.71 857.0,473.54 855.5,472.39 854.0,471.25 852.5,470.13 851.0,469.00 849.5,467.86 848.0,466.73 846.5,465.60 845.0,464.48 843.5,463.38 842.0,462.29 840.5,461.23 839.0,460.19 837.5,459.19 836.0,458.23 834.5,457.30 833.0,456.43 831.5,455.58 830.0,454.74 828.5,453.91 827.0,453.09 825.5,452.28 824.0,451.50 822.5,450.74 821.0,450.02 819.5,449.33 818.0,448.68 816.5,448.09 815.0,447.55 813.5,447.07 812.0,446.65 810.5,446.28 809.0,445.95 807.5,445.65 806.0,445.37 804.5,445.11 803.0,444.87 801.5,444.64 800.0,444.41 798.5,444.17 797.0,443.93 795.5,443.68 794.0,443.42 792.5,443.12 791.0,442.81 789.5,442.48 788.0,442.15 786.5,441.81 785.0,441.46 783.5,441.10 782.0,440.73 780.5,440.35 779.0,439.97 777.5,439.57 776.0,439.17 774.5,438.75 773.0,438.33 771.5,437.90 770.0,437.44 768.5,436.94 767.0,436.41 765.5,435.85 764.0,435.27 762.5,434.69 761.0,434.11 759.5,433.53 758.0,432.97 756.5,432.43 755.0,431.92 753.5,431.45 752.0,431.03 750.5,430.66 749.0,430.30 747.5,429.95 746.0,429.60 744.5,429.26 743.0,428.93 741.5,428.61 740.0,428.29 738.5,427.98 737.0,427.68 735.5,427.39 734.0,427.11 732.5,426.84 731.0,426.58 729.5,426.33 728.0,426.10 726.5,425.87 725.0,425.66 723.5,425.46 722.0,425.27 720.5,425.09 719.0,424.93 717.5,424.79 716.0,424.66 714.5,424.53 713.0,424.40 711.5,424.27 710.0,423.75 708.5,423.64 707.0,423.54 705.5,423.46 704.0,423.39 702.5,423.33 701.0,423.31 699.5,423.30 698.0,423.30 696.5,423.30 695.0,423.30 693.5,423.30 692.0,423.30 690.5,423.30 689.0,423.30 687.5,423.30 686.0,423.30 684.5,423.30 683.0,423.30 681.5,423.30 680.0,423.30 678.5,423.30 677.0,423.30 675.5,423.30 674.0,423.30 672.5,423.30 671.0,423.30 669.5,423.30 668.0,423.30 666.5,423.30 665.0,423.30 663.5,423.30 662.0,423.30 660.5,423.30 659.0,423.30 657.5,423.30 656.0,423.30 654.5,423.30 653.0,423.30 651.5,423.30 650.0,423.30 648.5,423.30 647.0,423.30 645.5,423.30 644.0,423.30 642.5,423.30 641.0,423.30 639.5,423.30 638.0,423.30 636.5,423.30 635.0,423.30 633.5,423.30 632.0,423.30 630.5,423.30 629.0,423.30 627.5,423.30 626.0,423.30 624.5,423.30 623.0,423.30 621.5,423.30 620.0,423.30 618.5,423.30 617.0,423.30 615.5,423.30 614.0,423.30 612.5,423.30 611.0,423.30 609.5,423.30 608.0,423.30 606.5,423.30 605.0,423.30 603.5,423.30 602.0,423.30 600.5,423.30 599.0,423.30 597.5,423.30 596.0,423.30 594.5,423.30 593.0,423.30 591.5,423.30 590.0,423.30 588.5,423.30 587.0,423.30 585.5,423.30 584.0,423.30 582.5,423.30 581.0,423.30 579.5,423.30 578.0,423.30 576.5,423.30 575.0,423.30 573.5,423.30 572.0,423.30 570.5,423.30 569.0,423.30 567.5,423.30 566.0,423.30 564.5,423.30 563.0,423.30 561.5,423.30 560.0,423.30 558.5,423.30 557.0,423.30 555.5,423.30 554.0,423.30 552.5,423.30 551.0,423.30 549.5,423.30 548.0,423.30 546.5,423.30 545.0,423.30 543.5,423.30 542.0,423.30 540.5,423.30 539.0,423.30 537.5,423.30 536.0,423.30 534.5,423.30 533.0,423.30 531.5,423.30 530.0,423.30 528.5,423.30 527.0,423.30 525.5,423.30 524.0,423.30 522.5,423.30 521.0,423.30 519.5,423.30 518.0,423.30 516.5,423.30 515.0,423.30 513.5,423.30 512.0,423.30 510.5,423.30 509.0,423.30 507.5,423.30 506.0,423.30 504.5,423.30 503.0,423.30 501.5,423.30 500.0,423.30 498.5,423.30 497.0,423.30 495.5,423.30 494.0,423.30" fill="#eba2b4"/>
<polygon points="494.0,423.30 495.5,423.30 497.0,423.30 498.5,423.30 500.0,423.30 501.5,423.30 503.0,423.30 504.5,423.30 506.0,423.30 507.5,423.30 509.0,423.30 510.5,423.30 512.0,423.30 513.5,423.30 515.0,423.30 516.5,423.30 518.0,423.30 519.5,423.30 521.0,423.30 522.5,423.30 524.0,423.30 525.5,423.30 527.0,423.30 528.5,423.30 530.0,423.30 531.5,423.30 533.0,423.30 534.5,423.30 536.0,423.30 537.5,423.30 539.0,423.30 540.5,423.30 542.0,423.30 543.5,423.30 545.0,423.30 546.5,423.30 548.0,423.30 549.5,423.30 551.0,423.30 552.5,423.30 554.0,423.30 555.5,423.30 557.0,423.30 558.5,423.30 560.0,423.30 561.5,423.30 563.0,423.30 564.5,423.30 566.0,423.30 567.5,423.30 569.0,423.30 570.5,423.30 572.0,423.30 573.5,423.30 575.0,423.30 576.5,423.30 578.0,423.30 579.5,423.30 581.0,423.30 582.5,423.30 584.0,423.30 585.5,423.30 587.0,423.30 588.5,423.30 590.0,423.30 591.5,423.30 593.0,423.30 594.5,423.30 596.0,423.30 597.5,423.30 599.0,423.30 600.5,423.30 602.0,423.30 603.5,423.30 605.0,423.30 606.5,423.30 608.0,423.30 609.5,423.30 611.0,423.30 612.5,423.30 614.0,423.30 615.5,423.30 617.0,423.30 618.5,423.30 620.0,423.30 621.5,423.30 623.0,423.30 624.5,423.30 626.0,423.30 627.5,423.30 629.0,423.30 630.5,423.30 632.0,423.30 633.5,423.30 635.0,423.30 636.5,423.30 638.0,423.30 639.5,423.30 641.0,423.30 642.5,423.30 644.0,423.30 645.5,423.30 647.0,423.30 648.5,423.30 650.0,423.30 651.5,423.30 653.0,423.30 654.5,423.30 656.0,423.30 657.5,423.30 659.0,423.30 660.5,423.30 662.0,423.30 663.5,423.30 665.0,423.30 666.5,423.30 668.0,423.30 669.5,423.30 671.0,423.30 672.5,423.30 674.0,423.30 675.5,423.30 677.0,423.30 678.5,423.30 680.0,423.30 681.5,423.30 683.0,423.30 684.5,423.30 686.0,423.30 687.5,423.30 689.0,423.30 690.5,423.30 692.0,423.30 693.5,423.30 695.0,423.30 696.5,423.30 698.0,423.30 699.5,423.30 701.0,423.31 702.5,423.33 704.0,423.38 705.5,423.44 707.0,423.52 708.5,423.61 710.0,423.71 711.5,423.82 713.0,423.93 714.5,424.05 716.0,424.16 717.5,424.28 719.0,424.40 720.5,424.54 722.0,424.69 723.5,424.85 725.0,425.01 726.5,425.19 728.0,425.38 729.5,425.57 731.0,425.78 732.5,425.99 734.0,426.22 735.5,426.45 737.0,426.69 738.5,426.94 740.0,427.19 741.5,427.45 743.0,427.72 744.5,428.00 746.0,428.29 747.5,428.58 749.0,428.87 750.5,429.18 752.0,429.50 753.5,429.86 755.0,430.27 756.5,430.72 758.0,431.20 759.5,431.70 761.0,432.21 762.5,432.74 764.0,433.26 765.5,433.77 767.0,434.27 768.5,434.75 770.0,435.19 771.5,435.60 773.0,435.98 774.5,436.36 776.0,436.74 777.5,437.11 779.0,437.47 780.5,437.82 782.0,438.16 783.5,438.49 785.0,438.81 786.5,439.12 788.0,439.41 789.5,439.69 791.0,439.95 792.5,440.19 794.0,440.41 795.5,440.61 797.0,440.78 798.5,440.95 800.0,441.10 801.5,441.26 803.0,441.41 804.5,441.57 806.0,441.74 807.5,441.94 809.0,442.15 810.5,442.39 812.0,442.66 813.5,442.99 815.0,443.38 816.5,443.85 818.0,444.38 819.5,444.96 821.0,445.60 822.5,446.27 824.0,446.98 825.5,447.72 827.0,448.48 828.5,449.26 830.0,450.04 831.5,450.83 833.0,451.61 834.5,452.43 836.0,453.30 837.5,454.21 839.0,455.16 840.5,456.15 842.0,457.16 843.5,458.20 845.0,459.25 846.5,460.32 848.0,461.40 849.5,462.49 851.0,463.57 852.5,464.64 854.0,465.71 855.5,466.79 857.0,467.88 858.5,468.99 860.0,470.10 861.5,471.22 863.0,472.36 864.5,473.51 866.0,474.67 867.5,475.84 869.0,477.03 870.5,478.23 872.0,479.44 873.5,480.66 875.0,481.91 876.5,483.16 878.0,484.44 879.5,485.73 881.0,487.04 882.5,488.35 884.0,489.69 885.5,491.03 887.0,492.39 888.5,493.76 890.0,495.15 891.5,496.54 893.0,497.94 894.5,499.36 896.0,500.81 897.5,502.28 899.0,503.78 900.5,505.29 902.0,506.80 903.5,508.31 904.7,509.50 904.7,511.90 903.5,510.71 902.0,509.20 900.5,507.69 899.0,506.19 897.5,504.69 896.0,503.21 894.5,501.76 893.0,500.34 891.5,498.93 890.0,497.52 888.5,496.13 887.0,494.74 885.5,493.37 884.0,492.01 882.5,490.66 881.0,489.32 879.5,488.00 878.0,486.69 876.5,485.40 875.0,484.12 873.5,482.87 872.0,481.63 870.5,480.40 869.0,479.18 867.5,477.98 866.0,476.80 864.5,475.62 863.0,474.46 861.5,473.31 860.0,472.17 858.5,471.04 857.0,469.92 855.5,468.82 854.0,467.72 852.5,466.64 851.0,465.55 849.5,464.45 848.0,463.36 846.5,462.27 845.0,461.18 843.5,460.11 842.0,459.06 840.5,458.04 839.0,457.04 837.5,456.07 836.0,455.14 834.5,454.26 833.0,453.42 831.5,452.61 830.0,451.80 828.5,451.00 827.0,450.20 825.5,449.42 824.0,448.65 822.5,447.92 821.0,447.22 819.5,446.57 818.0,445.96 816.5,445.41 815.0,444.92 813.5,444.50 812.0,444.16 810.5,443.87 809.0,443.61 807.5,443.38 806.0,443.17 804.5,442.99 803.0,442.81 801.5,442.64 800.0,442.48 798.5,442.31 797.0,442.13 795.5,441.94 794.0,441.73 792.5,441.50 791.0,441.24 789.5,440.97 788.0,440.67 786.5,440.37 785.0,440.05 783.5,439.72 782.0,439.37 780.5,439.02 779.0,438.65 777.5,438.28 776.0,437.89 774.5,437.50 773.0,437.10 771.5,436.70 770.0,436.27 768.5,435.80 767.0,435.29 765.5,434.76 764.0,434.22 762.5,433.66 761.0,433.11 759.5,432.56 758.0,432.02 756.5,431.51 755.0,431.03 753.5,430.60 752.0,430.21 750.5,429.87 749.0,429.55 747.5,429.23 746.0,428.92 744.5,428.62 743.0,428.32 741.5,428.04 740.0,427.76 738.5,427.48 737.0,427.22 735.5,426.97 734.0,426.72 732.5,426.48 731.0,426.25 729.5,426.04 728.0,425.83 726.5,425.23 725.0,425.04 723.5,424.87 722.0,424.70 720.5,424.55 719.0,424.41 717.5,424.28 716.0,424.16 714.5,424.05 713.0,423.93 711.5,423.82 710.0,423.71 708.5,423.61 707.0,423.52 705.5,423.44 704.0,423.38 702.5,423.33 701.0,423.31 699.5,423.30 698.0,423.30 696.5,423.30 695.0,423.30 693.5,423.30 692.0,423.30 690.5,423.30 689.0,423.30 687.5,423.30 686.0,423.30 684.5,423.30 683.0,423.30 681.5,423.30 680.0,423.30 678.5,423.30 677.0,423.30 675.5,423.30 674.0,423.30 672.5,423.30 671.0,423.30 669.5,423.30 668.0,423.30 666.5,423.30 665.0,423.30 663.5,423.30 662.0,423.30 660.5,423.30 659.0,423.30 657.5,423.30 656.0,423.30 654.5,423.30 653.0,423.30 651.5,423.30 650.0,423.30 648.5,423.30 647.0,423.30 645.5,423.30 644.0,423.30 642.5,423.30 641.0,423.30 639.5,423.30 638.0,423.30 636.5,423.30 635.0,423.30 633.5,423.30 632.0,423.30 630.5,423.30 629.0,423.30 627.5,423.30 626.0,423.30 624.5,423.30 623.0,423.30 621.5,423.30 620.0,423.30 618.5,423.30 617.0,423.30 615.5,423.30 614.0,423.30 612.5,423.30 611.0,423.30 609.5,423.30 608.0,423.30 606.5,423.30 605.0,423.30 603.5,423.30 602.0,423.30 600.5,423.30 599.0,423.30 597.5,423.30 596.0,423.30 594.5,423.30 593.0,423.30 591.5,423.30 590.0,423.30 588.5,423.30 587.0,423.30 585.5,423.30 584.0,423.30 582.5,423.30 581.0,423.30 579.5,423.30 578.0,423.30 576.5,423.30 575.0,423.30 573.5,423.30 572.0,423.30 570.5,423.30 569.0,423.30 567.5,423.30 566.0,423.30 564.5,423.30 563.0,423.30 561.5,423.30 560.0,423.30 558.5,423.30 557.0,423.30 555.5,423.30 554.0,423.30 552.5,423.30 551.0,423.30 549.5,423.30 548.0,423.30 546.5,423.30 545.0,423.30 543.5,423.30 542.0,423.30 540.5,423.30 539.0,423.30 537.5,423.30 536.0,423.30 534.5,423.30 533.0,423.30 531.5,423.30 530.0,423.30 528.5,423.30 527.0,423.30 525.5,423.30 524.0,423.30 522.5,423.30 521.0,423.30 519.5,423.30 518.0,423.30 516.5,423.30 515.0,423.30 513.5,423.30 512.0,423.30 510.5,423.30 509.0,423.30 507.5,423.30 506.0,423.30 504.5,423.30 503.0,423.30 501.5,423.30 500.0,423.30 498.5,423.30 497.0,423.30 495.5,423.30 494.0,423.30" fill="#bba8d8"/>
<polygon points="494.0,423.30 495.5,423.30 497.0,423.30 498.5,423.30 500.0,423.30 501.5,423.30 503.0,423.30 504.5,423.30 506.0,423.30 507.5,423.30 509.0,423.30 510.5,423.30 512.0,423.30 513.5,423.30 515.0,423.30 516.5,423.30 518.0,423.30 519.5,423.30 521.0,423.30 522.5,423.30 524.0,423.30 525.5,423.30 527.0,423.30 528.5,423.30 530.0,423.30 531.5,423.30 533.0,423.30 534.5,423.30 536.0,423.30 537.5,423.30 539.0,423.30 540.5,423.30 542.0,423.30 543.5,423.30 545.0,423.30 546.5,423.30 548.0,423.30 549.5,423.30 551.0,423.30 552.5,423.30 554.0,423.30 555.5,423.30 557.0,423.30 558.5,423.30 560.0,423.30 561.5,423.30 563.0,423.30 564.5,423.30 566.0,423.30 567.5,423.30 569.0,423.30 570.5,423.30 572.0,423.30 573.5,423.30 575.0,423.30 576.5,423.30 578.0,423.30 579.5,423.30 581.0,423.30 582.5,423.30 584.0,423.30 585.5,423.30 587.0,423.30 588.5,423.30 590.0,423.30 591.5,423.30 593.0,423.30 594.5,423.30 596.0,423.30 597.5,423.30 599.0,423.30 600.5,423.30 602.0,423.30 603.5,423.30 605.0,423.30 606.5,423.30 608.0,423.30 609.5,423.30 611.0,423.30 612.5,423.30 614.0,423.30 615.5,423.30 617.0,423.30 618.5,423.30 620.0,423.30 621.5,423.30 623.0,423.30 624.5,423.30 626.0,423.30 627.5,423.30 629.0,423.30 630.5,423.30 632.0,423.30 633.5,423.30 635.0,423.30 636.5,423.30 638.0,423.30 639.5,423.30 641.0,423.30 642.5,423.30 644.0,423.30 645.5,423.30 647.0,423.30 648.5,423.30 650.0,423.30 651.5,423.30 653.0,423.30 654.5,423.30 656.0,423.30 657.5,423.30 659.0,423.30 660.5,423.30 662.0,423.30 663.5,423.30 665.0,423.30 666.5,423.30 668.0,423.30 669.5,423.30 671.0,423.30 672.5,423.30 674.0,423.30 675.5,423.30 677.0,423.30 678.5,423.30 680.0,423.30 681.5,423.30 683.0,423.30 684.5,423.30 686.0,423.30 687.5,423.30 689.0,423.30 690.5,423.30 692.0,423.30 693.5,423.30 695.0,423.30 696.5,423.30 698.0,423.30 699.5,423.30 701.0,423.30 702.5,423.33 704.0,423.37 705.5,423.42 707.0,423.49 708.5,423.57 710.0,423.66 711.5,423.76 713.0,423.86 714.5,423.96 716.0,424.07 717.5,424.17 719.0,424.29 720.5,424.43 722.0,424.58 723.5,424.74 725.0,424.92 726.5,425.10 728.0,425.30 729.5,425.50 731.0,425.72 732.5,425.94 734.0,426.17 735.5,426.41 737.0,426.65 738.5,426.89 740.0,427.14 741.5,427.39 743.0,427.65 744.5,427.90 746.0,428.15 747.5,428.40 749.0,428.65 750.5,428.90 752.0,429.15 753.5,429.39 755.0,429.65 756.5,429.90 758.0,430.16 759.5,430.43 761.0,430.70 762.5,430.98 764.0,431.26 765.5,431.55 767.0,431.85 768.5,432.16 770.0,432.47 771.5,432.80 773.0,433.15 774.5,433.55 776.0,433.97 777.5,434.42 779.0,434.88 780.5,435.35 782.0,435.82 783.5,436.28 785.0,436.73 786.5,437.14 788.0,437.53 789.5,437.87 791.0,438.15 792.5,438.39 794.0,438.58 795.5,438.75 797.0,438.90 798.5,439.03 800.0,439.15 801.5,439.27 803.0,439.38 804.5,439.50 806.0,439.64 807.5,439.78 809.0,439.95 810.5,440.14 812.0,440.37 813.5,440.65 815.0,441.00 816.5,441.43 818.0,441.93 819.5,442.48 821.0,443.09 822.5,443.74 824.0,444.42 825.5,445.14 827.0,445.87 828.5,446.63 830.0,447.39 831.5,448.15 833.0,448.90 834.5,449.70 836.0,450.55 837.5,451.45 839.0,452.39 840.5,453.36 842.0,454.36 843.5,455.39 845.0,456.43 846.5,457.48 848.0,458.54 849.5,459.59 851.0,460.63 852.5,461.66 854.0,462.68 855.5,463.69 857.0,464.71 858.5,465.72 860.0,466.75 861.5,467.78 863.0,468.82 864.5,469.86 866.0,470.91 867.5,471.98 869.0,473.05 870.5,474.14 872.0,475.24 873.5,476.35 875.0,477.47 876.5,478.60 878.0,479.73 879.5,480.87 881.0,482.03 882.5,483.20 884.0,484.38 885.5,485.58 887.0,486.79 888.5,488.03 890.0,489.29 891.5,490.57 893.0,491.88 894.5,493.22 896.0,494.63 897.5,496.08 899.0,497.57 900.5,499.09 902.0,500.60 903.5,502.11 904.7,503.30 904.7,509.90 903.5,508.71 902.0,507.20 900.5,505.69 899.0,504.18 897.5,502.68 896.0,501.21 894.5,499.76 893.0,498.34 891.5,496.94 890.0,495.55 888.5,494.16 887.0,492.79 885.5,491.43 884.0,490.09 882.5,488.75 881.0,487.44 879.5,486.13 878.0,484.84 876.5,483.56 875.0,482.31 873.5,481.06 872.0,479.84 870.5,478.63 869.0,477.43 867.5,476.24 866.0,475.07 864.5,473.91 863.0,472.76 861.5,471.62 860.0,470.50 858.5,469.39 857.0,468.28 855.5,467.19 854.0,466.11 852.5,465.04 851.0,463.97 849.5,462.89 848.0,461.80 846.5,460.72 845.0,459.65 843.5,458.60 842.0,457.56 840.5,456.55 839.0,455.56 837.5,454.61 836.0,453.70 834.5,452.83 833.0,452.01 831.5,451.23 830.0,450.44 828.5,449.66 827.0,448.88 825.5,448.12 824.0,447.38 822.5,446.67 821.0,446.00 819.5,445.36 818.0,444.78 816.5,444.25 815.0,443.78 813.5,443.39 812.0,443.06 810.5,442.79 809.0,442.55 807.5,442.34 806.0,442.14 804.5,441.97 803.0,441.81 801.5,441.66 800.0,441.50 798.5,441.35 797.0,441.18 795.5,441.01 794.0,440.81 792.5,440.59 791.0,440.35 789.5,440.09 788.0,439.81 786.5,439.52 785.0,439.21 783.5,438.89 782.0,438.56 780.5,438.22 779.0,437.87 777.5,437.51 776.0,437.14 774.5,436.76 773.0,436.38 771.5,436.00 770.0,435.59 768.5,435.15 767.0,434.67 765.5,434.17 764.0,433.66 762.5,433.14 761.0,432.61 759.5,432.10 758.0,431.60 756.5,431.12 755.0,430.67 753.5,430.26 752.0,429.90 750.5,429.58 749.0,429.27 747.5,428.98 746.0,428.69 744.5,428.40 743.0,428.12 741.5,427.85 740.0,427.19 738.5,426.94 737.0,426.69 735.5,426.45 734.0,426.22 732.5,426.39 731.0,426.18 729.5,425.97 728.0,425.78 726.5,425.59 725.0,425.41 723.5,425.25 722.0,425.09 720.5,424.94 719.0,424.80 717.5,424.68 716.0,424.56 714.5,424.45 713.0,424.33 711.5,424.22 710.0,423.71 708.5,423.61 707.0,423.52 705.5,423.44 704.0,423.38 702.5,423.33 701.0,423.31 699.5,423.30 698.0,423.30 696.5,423.30 695.0,423.30 693.5,423.30 692.0,423.30 690.5,423.30 689.0,423.30 687.5,423.30 686.0,423.30 684.5,423.30 683.0,423.30 681.5,423.30 680.0,423.30 678.5,423.30 677.0,423.30 675.5,423.30 674.0,423.30 672.5,423.30 671.0,423.30 669.5,423.30 668.0,423.30 666.5,423.30 665.0,423.30 663.5,423.30 662.0,423.30 660.5,423.30 659.0,423.30 657.5,423.30 656.0,423.30 654.5,423.30 653.0,423.30 651.5,423.30 650.0,423.30 648.5,423.30 647.0,423.30 645.5,423.30 644.0,423.30 642.5,423.30 641.0,423.30 639.5,423.30 638.0,423.30 636.5,423.30 635.0,423.30 633.5,423.30 632.0,423.30 630.5,423.30 629.0,423.30 627.5,423.30 626.0,423.30 624.5,423.30 623.0,423.30 621.5,423.30 620.0,423.30 618.5,423.30 617.0,423.30 615.5,423.30 614.0,423.30 612.5,423.30 611.0,423.30 609.5,423.30 608.0,423.30 606.5,423.30 605.0,423.30 603.5,423.30 602.0,423.30 600.5,423.30 599.0,423.30 597.5,423.30 596.0,423.30 594.5,423.30 593.0,423.30 591.5,423.30 590.0,423.30 588.5,423.30 587.0,423.30 585.5,423.30 584.0,423.30 582.5,423.30 581.0,423.30 579.5,423.30 578.0,423.30 576.5,423.30 575.0,423.30 573.5,423.30 572.0,423.30 570.5,423.30 569.0,423.30 567.5,423.30 566.0,423.30 564.5,423.30 563.0,423.30 561.5,423.30 560.0,423.30 558.5,423.30 557.0,423.30 555.5,423.30 554.0,423.30 552.5,423.30 551.0,423.30 549.5,423.30 548.0,423.30 546.5,423.30 545.0,423.30 543.5,423.30 542.0,423.30 540.5,423.30 539.0,423.30 537.5,423.30 536.0,423.30 534.5,423.30 533.0,423.30 531.5,423.30 530.0,423.30 528.5,423.30 527.0,423.30 525.5,423.30 524.0,423.30 522.5,423.30 521.0,423.30 519.5,423.30 518.0,423.30 516.5,423.30 515.0,423.30 513.5,423.30 512.0,423.30 510.5,423.30 509.0,423.30 507.5,423.30 506.0,423.30 504.5,423.30 503.0,423.30 501.5,423.30 500.0,423.30 498.5,423.30 497.0,423.30 495.5,423.30 494.0,423.30" fill="#7b87bd"/>
<polygon points="494.0,423.30 495.5,423.30 497.0,423.30 498.5,423.30 500.0,423.30 501.5,423.30 503.0,423.30 504.5,423.30 506.0,423.30 507.5,423.30 509.0,423.30 510.5,423.30 512.0,423.30 513.5,423.30 515.0,423.30 516.5,423.30 518.0,423.30 519.5,423.30 521.0,423.30 522.5,423.30 524.0,423.30 525.5,423.30 527.0,423.30 528.5,423.30 530.0,423.30 531.5,423.30 533.0,423.30 534.5,423.30 536.0,423.30 537.5,423.30 539.0,423.30 540.5,423.30 542.0,423.30 543.5,423.30 545.0,423.30 546.5,423.30 548.0,423.30 549.5,423.30 551.0,423.30 552.5,423.30 554.0,423.30 555.5,423.30 557.0,423.30 558.5,423.30 560.0,423.30 561.5,423.30 563.0,423.30 564.5,423.30 566.0,423.30 567.5,423.30 569.0,423.30 570.5,423.30 572.0,423.30 573.5,423.30 575.0,423.30 576.5,423.30 578.0,423.30 579.5,423.30 581.0,423.30 582.5,423.30 584.0,423.30 585.5,423.30 587.0,423.30 588.5,423.30 590.0,423.30 591.5,423.30 593.0,423.30 594.5,423.30 596.0,423.30 597.5,423.30 599.0,423.30 600.5,423.30 602.0,423.30 603.5,423.30 605.0,423.30 606.5,423.30 608.0,423.30 609.5,423.30 611.0,423.30 612.5,423.30 614.0,423.30 615.5,423.30 617.0,423.30 618.5,423.30 620.0,423.30 621.5,423.30 623.0,423.30 624.5,423.30 626.0,423.30 627.5,423.30 629.0,423.30 630.5,423.30 632.0,423.30 633.5,423.30 635.0,423.30 636.5,423.30 638.0,423.30 639.5,423.30 641.0,423.30 642.5,423.30 644.0,423.30 645.5,423.30 647.0,423.30 648.5,423.30 650.0,423.30 651.5,423.30 653.0,423.30 654.5,423.30 656.0,423.30 657.5,423.30 659.0,423.30 660.5,423.30 662.0,423.30 663.5,423.30 665.0,423.30 666.5,423.30 668.0,423.30 669.5,423.30 671.0,423.30 672.5,423.30 674.0,423.30 675.5,423.30 677.0,423.30 678.5,423.30 680.0,423.30 681.5,423.30 683.0,423.30 684.5,423.30 686.0,423.30 687.5,423.30 689.0,423.30 690.5,423.30 692.0,423.30 693.5,423.30 695.0,423.30 696.5,423.30 698.0,423.30 699.5,423.30 701.0,423.30 702.5,423.32 704.0,423.36 705.5,423.40 707.0,423.46 708.5,423.53 710.0,423.60 711.5,423.69 713.0,423.78 714.5,423.87 716.0,423.97 717.5,424.08 719.0,424.22 720.5,424.40 722.0,424.58 723.5,424.74 725.0,424.92 726.5,425.10 728.0,425.30 729.5,425.50 731.0,425.72 732.5,425.94 734.0,426.17 735.5,426.41 737.0,426.65 738.5,426.81 740.0,426.98 741.5,427.15 743.0,427.32 744.5,427.49 746.0,427.66 747.5,427.84 749.0,428.03 750.5,428.22 752.0,428.42 753.5,428.62 755.0,428.83 756.5,429.04 758.0,429.26 759.5,429.48 761.0,429.70 762.5,429.93 764.0,430.16 765.5,430.40 767.0,430.64 768.5,430.89 770.0,431.14 771.5,431.40 773.0,431.67 774.5,431.96 776.0,432.26 777.5,432.58 779.0,432.90 780.5,433.23 782.0,433.56 783.5,433.88 785.0,434.20 786.5,434.52 788.0,434.81 789.5,435.09 791.0,435.35 792.5,435.59 794.0,435.80 795.5,436.00 797.0,436.17 798.5,436.33 800.0,436.49 801.5,436.65 803.0,436.80 804.5,436.97 806.0,437.15 807.5,437.34 809.0,437.55 810.5,437.79 812.0,438.06 813.5,438.38 815.0,438.76 816.5,439.21 818.0,439.71 819.5,440.27 821.0,440.86 822.5,441.50 824.0,442.16 825.5,442.85 827.0,443.57 828.5,444.29 830.0,445.03 831.5,445.76 833.0,446.50 834.5,447.27 836.0,448.08 837.5,448.94 839.0,449.84 840.5,450.76 842.0,451.71 843.5,452.68 845.0,453.66 846.5,454.65 848.0,455.65 849.5,456.64 851.0,457.62 852.5,458.58 854.0,459.53 855.5,460.49 857.0,461.44 858.5,462.40 860.0,463.36 861.5,464.33 863.0,465.30 864.5,466.27 866.0,467.25 867.5,468.24 869.0,469.23 870.5,470.22 872.0,471.23 873.5,472.23 875.0,473.24 876.5,474.23 878.0,475.22 879.5,476.20 881.0,477.20 882.5,478.19 884.0,479.21 885.5,480.24 887.0,481.29 888.5,482.37 890.0,483.49 891.5,484.64 893.0,485.83 894.5,487.08 896.0,488.42 897.5,489.84 899.0,491.31 900.5,492.81 902.0,494.33 903.5,495.83 904.7,497.00 904.7,503.70 903.5,502.51 902.0,501.00 900.5,499.49 899.0,497.97 897.5,496.48 896.0,495.03 894.5,493.62 893.0,492.28 891.5,490.97 890.0,489.69 888.5,488.43 887.0,487.19 885.5,485.98 884.0,484.78 882.5,483.60 881.0,482.43 879.5,481.27 878.0,480.13 876.5,479.00 875.0,477.87 873.5,476.75 872.0,475.64 870.5,474.54 869.0,473.45 867.5,472.38 866.0,471.31 864.5,470.26 863.0,469.22 861.5,468.18 860.0,467.15 858.5,466.12 857.0,465.11 855.5,464.09 854.0,463.08 852.5,462.06 851.0,461.03 849.5,459.99 848.0,458.94 846.5,457.88 845.0,456.83 843.5,455.79 842.0,454.76 840.5,453.76 839.0,452.79 837.5,451.85 836.0,450.95 834.5,450.10 833.0,449.30 831.5,448.55 830.0,447.79 828.5,447.03 827.0,446.27 825.5,445.54 824.0,444.82 822.5,444.14 821.0,443.49 819.5,442.88 818.0,442.33 816.5,441.83 815.0,441.40 813.5,441.05 812.0,440.77 810.5,440.54 809.0,440.35 807.5,440.18 806.0,440.04 804.5,439.90 803.0,439.78 801.5,439.67 800.0,439.55 798.5,439.43 797.0,439.30 795.5,439.15 794.0,438.98 792.5,438.79 791.0,438.55 789.5,438.27 788.0,437.93 786.5,437.54 785.0,437.13 783.5,436.68 782.0,436.22 780.5,435.75 779.0,435.28 777.5,434.82 776.0,434.37 774.5,433.95 773.0,433.55 771.5,433.20 770.0,432.87 768.5,432.56 767.0,432.25 765.5,431.95 764.0,431.66 762.5,431.38 761.0,431.10 759.5,430.83 758.0,430.56 756.5,430.30 755.0,430.05 753.5,429.79 752.0,429.55 750.5,429.30 749.0,429.05 747.5,428.80 746.0,428.55 744.5,428.30 743.0,428.05 741.5,427.79 740.0,427.54 738.5,427.29 737.0,426.65 735.5,426.41 734.0,426.17 732.5,425.94 731.0,425.72 729.5,425.50 728.0,425.30 726.5,425.10 725.0,424.92 723.5,424.74 722.0,424.58 720.5,424.43 719.0,424.69 717.5,424.57 716.0,424.47 714.5,424.36 713.0,424.26 711.5,424.16 710.0,424.06 708.5,423.57 707.0,423.49 705.5,423.42 704.0,423.37 702.5,423.33 701.0,423.30 699.5,423.30 698.0,423.30 696.5,423.30 695.0,423.30 693.5,423.30 692.0,423.30 690.5,423.30 689.0,423.30 687.5,423.30 686.0,423.30 684.5,423.30 683.0,423.30 681.5,423.30 680.0,423.30 678.5,423.30 677.0,423.30 675.5,423.30 674.0,423.30 672.5,423.30 671.0,423.30 669.5,423.30 668.0,423.30 666.5,423.30 665.0,423.30 663.5,423.30 662.0,423.30 660.5,423.30 659.0,423.30 657.5,423.30 656.0,423.30 654.5,423.30 653.0,423.30 651.5,423.30 650.0,423.30 648.5,423.30 647.0,423.30 645.5,423.30 644.0,423.30 642.5,423.30 641.0,423.30 639.5,423.30 638.0,423.30 636.5,423.30 635.0,423.30 633.5,423.30 632.0,423.30 630.5,423.30 629.0,423.30 627.5,423.30 626.0,423.30 624.5,423.30 623.0,423.30 621.5,423.30 620.0,423.30 618.5,423.30 617.0,423.30 615.5,423.30 614.0,423.30 612.5,423.30 611.0,423.30 609.5,423.30 608.0,423.30 606.5,423.30 605.0,423.30 603.5,423.30 602.0,423.30 600.5,423.30 599.0,423.30 597.5,423.30 596.0,423.30 594.5,423.30 593.0,423.30 591.5,423.30 590.0,423.30 588.5,423.30 587.0,423.30 585.5,423.30 584.0,423.30 582.5,423.30 581.0,423.30 579.5,423.30 578.0,423.30 576.5,423.30 575.0,423.30 573.5,423.30 572.0,423.30 570.5,423.30 569.0,423.30 567.5,423.30 566.0,423.30 564.5,423.30 563.0,423.30 561.5,423.30 560.0,423.30 558.5,423.30 557.0,423.30 555.5,423.30 554.0,423.30 552.5,423.30 551.0,423.30 549.5,423.30 548.0,423.30 546.5,423.30 545.0,423.30 543.5,423.30 542.0,423.30 540.5,423.30 539.0,423.30 537.5,423.30 536.0,423.30 534.5,423.30 533.0,423.30 531.5,423.30 530.0,423.30 528.5,423.30 527.0,423.30 525.5,423.30 524.0,423.30 522.5,423.30 521.0,423.30 519.5,423.30 518.0,423.30 516.5,423.30 515.0,423.30 513.5,423.30 512.0,423.30 510.5,423.30 509.0,423.30 507.5,423.30 506.0,423.30 504.5,423.30 503.0,423.30 501.5,423.30 500.0,423.30 498.5,423.30 497.0,423.30 495.5,423.30 494.0,423.30" fill="#f6d074"/>
<polygon points="494.0,423.30 495.5,423.30 497.0,423.30 498.5,423.30 500.0,423.30 501.5,423.30 503.0,423.30 504.5,423.30 506.0,423.30 507.5,423.30 509.0,423.30 510.5,423.30 512.0,423.30 513.5,423.30 515.0,423.30 516.5,423.30 518.0,423.30 519.5,423.30 521.0,423.30 522.5,423.30 524.0,423.30 525.5,423.30 527.0,423.30 528.5,423.30 530.0,423.30 531.5,423.30 533.0,423.30 534.5,423.30 536.0,423.30 537.5,423.30 539.0,423.30 540.5,423.30 542.0,423.30 543.5,423.30 545.0,423.30 546.5,423.30 548.0,423.30 549.5,423.30 551.0,423.30 552.5,423.30 554.0,423.30 555.5,423.30 557.0,423.30 558.5,423.30 560.0,423.30 561.5,423.30 563.0,423.30 564.5,423.30 566.0,423.30 567.5,423.30 569.0,423.30 570.5,423.30 572.0,423.30 573.5,423.30 575.0,423.30 576.5,423.30 578.0,423.30 579.5,423.30 581.0,423.30 582.5,423.30 584.0,423.30 585.5,423.30 587.0,423.30 588.5,423.30 590.0,423.30 591.5,423.30 593.0,423.30 594.5,423.30 596.0,423.30 597.5,423.30 599.0,423.30 600.5,423.30 602.0,423.30 603.5,423.30 605.0,423.30 606.5,423.30 608.0,423.30 609.5,423.30 611.0,423.30 612.5,423.30 614.0,423.30 615.5,423.30 617.0,423.30 618.5,423.30 620.0,423.30 621.5,423.30 623.0,423.30 624.5,423.30 626.0,423.30 627.5,423.30 629.0,423.30 630.5,423.30 632.0,423.30 633.5,423.30 635.0,423.30 636.5,423.30 638.0,423.30 639.5,423.30 641.0,423.30 642.5,423.30 644.0,423.30 645.5,423.30 647.0,423.30 648.5,423.30 650.0,423.30 651.5,423.30 653.0,423.30 654.5,423.30 656.0,423.30 657.5,423.30 659.0,423.30 660.5,423.30 662.0,423.30 663.5,423.30 665.0,423.30 666.5,423.30 668.0,423.30 669.5,423.30 671.0,423.30 672.5,423.30 674.0,423.30 675.5,423.30 677.0,423.30 678.5,423.30 680.0,423.30 681.5,423.30 683.0,423.30 684.5,423.30 686.0,423.30 687.5,423.30 689.0,423.30 690.5,423.30 692.0,423.30 693.5,423.30 695.0,423.30 696.5,423.30 698.0,423.30 699.5,423.30 701.0,423.30 702.5,423.32 704.0,423.36 705.5,423.40 707.0,423.46 708.5,423.53 710.0,423.60 711.5,423.69 713.0,423.78 714.5,423.87 716.0,423.97 717.5,424.04 719.0,424.11 720.5,424.19 722.0,424.28 723.5,424.38 725.0,424.48 726.5,424.60 728.0,424.71 729.5,424.84 731.0,424.97 732.5,425.10 734.0,425.24 735.5,425.39 737.0,425.54 738.5,425.69 740.0,425.84 741.5,425.99 743.0,426.15 744.5,426.31 746.0,426.47 747.5,426.62 749.0,426.78 750.5,426.94 752.0,427.09 753.5,427.25 755.0,427.42 756.5,427.58 758.0,427.76 759.5,427.93 761.0,428.11 762.5,428.30 764.0,428.49 765.5,428.68 767.0,428.88 768.5,429.08 770.0,429.29 771.5,429.50 773.0,429.72 774.5,429.95 776.0,430.19 777.5,430.44 779.0,430.70 780.5,430.96 782.0,431.23 783.5,431.50 785.0,431.77 786.5,432.04 788.0,432.31 789.5,432.58 791.0,432.84 792.5,433.10 794.0,433.36 795.5,433.61 797.0,433.87 798.5,434.12 800.0,434.37 801.5,434.62 803.0,434.88 804.5,435.13 806.0,435.39 807.5,435.65 809.0,435.92 810.5,436.19 812.0,436.46 813.5,436.74 815.0,437.02 816.5,437.29 818.0,437.57 819.5,437.85 821.0,438.14 822.5,438.43 824.0,438.73 825.5,439.03 827.0,439.34 828.5,439.66 830.0,439.99 831.5,440.34 833.0,440.70 834.5,441.08 836.0,441.49 837.5,441.92 839.0,442.37 840.5,442.84 842.0,443.31 843.5,443.79 845.0,444.27 846.5,444.75 848.0,445.22 849.5,445.69 851.0,446.13 852.5,446.56 854.0,446.97 855.5,447.37 857.0,447.76 858.5,448.15 860.0,448.53 861.5,448.90 863.0,449.27 864.5,449.64 866.0,450.00 867.5,450.37 869.0,450.74 870.5,451.11 872.0,451.48 873.5,451.85 875.0,452.23 876.5,452.60 878.0,452.98 879.5,453.36 881.0,453.74 882.5,454.12 884.0,454.50 885.5,454.87 887.0,455.25 888.5,455.62 890.0,455.99 891.5,456.36 893.0,456.73 894.5,457.09 896.0,457.45 897.5,457.81 899.0,458.16 900.5,458.51 902.0,458.86 903.5,459.22 904.7,459.50 904.7,497.40 903.5,496.23 902.0,494.73 900.5,493.21 899.0,491.71 897.5,490.24 896.0,488.82 894.5,487.48 893.0,486.23 891.5,485.04 890.0,483.89 888.5,482.77 887.0,481.69 885.5,480.64 884.0,479.61 882.5,478.59 881.0,477.60 879.5,476.60 878.0,475.62 876.5,474.63 875.0,473.64 873.5,472.63 872.0,471.63 870.5,470.62 869.0,469.63 867.5,468.64 866.0,467.65 864.5,466.67 863.0,465.70 861.5,464.73 860.0,463.76 858.5,462.80 857.0,461.84 855.5,460.89 854.0,459.93 852.5,458.98 851.0,458.02 849.5,457.04 848.0,456.05 846.5,455.05 845.0,454.06 843.5,453.08 842.0,452.11 840.5,451.16 839.0,450.24 837.5,449.34 836.0,448.48 834.5,447.67 833.0,446.90 831.5,446.16 830.0,445.43 828.5,444.69 827.0,443.97 825.5,443.25 824.0,442.56 822.5,441.90 821.0,441.26 819.5,440.67 818.0,440.11 816.5,439.61 815.0,439.16 813.5,438.78 812.0,438.46 810.5,438.19 809.0,437.95 807.5,437.74 806.0,437.55 804.5,437.37 803.0,437.20 801.5,437.05 800.0,436.89 798.5,436.73 797.0,436.57 795.5,436.40 794.0,436.20 792.5,435.99 791.0,435.75 789.5,435.49 788.0,435.21 786.5,434.92 785.0,434.60 783.5,434.28 782.0,433.96 780.5,433.63 779.0,433.30 777.5,432.98 776.0,432.66 774.5,432.36 773.0,432.07 771.5,431.80 770.0,431.54 768.5,431.29 767.0,431.04 765.5,430.80 764.0,430.56 762.5,430.33 761.0,430.10 759.5,429.88 758.0,429.66 756.5,429.44 755.0,429.23 753.5,429.02 752.0,428.82 750.5,428.62 749.0,428.43 747.5,428.24 746.0,428.06 744.5,427.89 743.0,427.72 741.5,427.55 740.0,427.38 738.5,427.21 737.0,427.05 735.5,426.81 734.0,426.57 732.5,426.34 731.0,426.12 729.5,425.90 728.0,425.70 726.5,425.50 725.0,425.32 723.5,425.14 722.0,424.98 720.5,424.80 719.0,424.62 717.5,424.08 716.0,423.97 714.5,423.87 713.0,423.78 711.5,423.69 710.0,423.60 708.5,423.53 707.0,423.46 705.5,423.40 704.0,423.36 702.5,423.32 701.0,423.30 699.5,423.30 698.0,423.30 696.5,423.30 695.0,423.30 693.5,423.30 692.0,423.30 690.5,423.30 689.0,423.30 687.5,423.30 686.0,423.30 684.5,423.30 683.0,423.30 681.5,423.30 680.0,423.30 678.5,423.30 677.0,423.30 675.5,423.30 674.0,423.30 672.5,423.30 671.0,423.30 669.5,423.30 668.0,423.30 666.5,423.30 665.0,423.30 663.5,423.30 662.0,423.30 660.5,423.30 659.0,423.30 657.5,423.30 656.0,423.30 654.5,423.30 653.0,423.30 651.5,423.30 650.0,423.30 648.5,423.30 647.0,423.30 645.5,423.30 644.0,423.30 642.5,423.30 641.0,423.30 639.5,423.30 638.0,423.30 636.5,423.30 635.0,423.30 633.5,423.30 632.0,423.30 630.5,423.30 629.0,423.30 627.5,423.30 626.0,423.30 624.5,423.30 623.0,423.30 621.5,423.30 620.0,423.30 618.5,423.30 617.0,423.30 615.5,423.30 614.0,423.30 612.5,423.30 611.0,423.30 609.5,423.30 608.0,423.30 606.5,423.30 605.0,423.30 603.5,423.30 602.0,423.30 600.5,423.30 599.0,423.30 597.5,423.30 596.0,423.30 594.5,423.30 593.0,423.30 591.5,423.30 590.0,423.30 588.5,423.30 587.0,423.30 585.5,423.30 584.0,423.30 582.5,423.30 581.0,423.30 579.5,423.30 578.0,423.30 576.5,423.30 575.0,423.30 573.5,423.30 572.0,423.30 570.5,423.30 569.0,423.30 567.5,423.30 566.0,423.30 564.5,423.30 563.0,423.30 561.5,423.30 560.0,423.30 558.5,423.30 557.0,423.30 555.5,423.30 554.0,423.30 552.5,423.30 551.0,423.30 549.5,423.30 548.0,423.30 546.5,423.30 545.0,423.30 543.5,423.30 542.0,423.30 540.5,423.30 539.0,423.30 537.5,423.30 536.0,423.30 534.5,423.30 533.0,423.30 531.5,423.30 530.0,423.30 528.5,423.30 527.0,423.30 525.5,423.30 524.0,423.30 522.5,423.30 521.0,423.30 519.5,423.30 518.0,423.30 516.5,423.30 515.0,423.30 513.5,423.30 512.0,423.30 510.5,423.30 509.0,423.30 507.5,423.30 506.0,423.30 504.5,423.30 503.0,423.30 501.5,423.30 500.0,423.30 498.5,423.30 497.0,423.30 495.5,423.30 494.0,423.30" fill="#e2696c"/>
<polygon points="494.0,423.30 495.5,423.30 497.0,423.30 498.5,423.30 500.0,423.30 501.5,423.30 503.0,423.30 504.5,423.30 506.0,423.30 507.5,423.30 509.0,423.30 510.5,423.30 512.0,423.30 513.5,423.30 515.0,423.30 516.5,423.30 518.0,423.30 519.5,423.30 521.0,423.30 522.5,423.30 524.0,423.30 525.5,423.30 527.0,423.30 528.5,423.30 530.0,423.30 531.5,423.30 533.0,423.30 534.5,423.30 536.0,423.30 537.5,423.30 539.0,423.30 540.5,423.30 542.0,423.30 543.5,423.30 545.0,423.30 546.5,423.30 548.0,423.30 549.5,423.30 551.0,423.30 552.5,423.30 554.0,423.30 555.5,423.30 557.0,423.30 558.5,423.30 560.0,423.30 561.5,423.30 563.0,423.30 564.5,423.30 566.0,423.30 567.5,423.30 569.0,423.30 570.5,423.30 572.0,423.30 573.5,423.30 575.0,423.30 576.5,423.30 578.0,423.30 579.5,423.30 581.0,423.30 582.5,423.30 584.0,423.30 585.5,423.30 587.0,423.30 588.5,423.30 590.0,423.30 591.5,423.30 593.0,423.30 594.5,423.30 596.0,423.30 597.5,423.30 599.0,423.30 600.5,423.30 602.0,423.30 603.5,423.30 605.0,423.30 606.5,423.30 608.0,423.30 609.5,423.30 611.0,423.30 612.5,423.30 614.0,423.30 615.5,423.30 617.0,423.30 618.5,423.30 620.0,423.30 621.5,423.30 623.0,423.30 624.5,423.30 626.0,423.30 627.5,423.30 629.0,423.30 630.5,423.30 632.0,423.30 633.5,423.30 635.0,423.30 636.5,423.30 638.0,423.30 639.5,423.30 641.0,423.30 642.5,423.30 644.0,423.30 645.5,423.30 647.0,423.30 648.5,423.30 650.0,423.30 651.5,423.30 653.0,423.30 654.5,423.30 656.0,423.30 657.5,423.30 659.0,423.30 660.5,423.30 662.0,423.30 663.5,423.30 665.0,423.30 666.5,423.30 668.0,423.30 669.5,423.30 671.0,423.30 672.5,423.30 674.0,423.30 675.5,423.30 677.0,423.30 678.5,423.30 680.0,423.30 681.5,423.30 683.0,423.30 684.5,423.30 686.0,423.30 687.5,423.30 689.0,423.30 690.5,423.30 692.0,423.30 693.5,423.30 695.0,423.30 696.5,423.30 698.0,423.30 699.5,423.30 701.0,423.30 702.5,423.30 704.0,423.30 705.5,423.30 707.0,423.30 708.5,423.30 710.0,423.30 711.5,423.30 713.0,423.30 714.5,423.30 716.0,423.30 717.5,423.30 719.0,423.30 720.5,423.30 722.0,423.30 723.5,423.30 725.0,423.30 726.5,423.30 728.0,423.30 729.5,423.30 731.0,423.30 732.5,423.30 734.0,423.30 735.5,423.30 737.0,423.30 738.5,423.30 740.0,423.30 741.5,423.30 743.0,423.30 744.5,423.30 746.0,423.30 747.5,423.30 749.0,423.30 750.5,423.30 752.0,423.30 753.5,423.30 755.0,423.30 756.5,423.30 758.0,423.30 759.5,423.30 761.0,423.30 762.5,423.30 764.0,423.30 765.5,423.30 767.0,423.30 768.5,423.30 770.0,423.30 771.5,423.30 773.0,423.30 774.5,423.30 776.0,423.30 777.5,423.30 779.0,423.30 780.5,423.30 782.0,423.30 783.5,423.30 785.0,423.30 786.5,423.30 788.0,423.30 789.5,423.30 791.0,423.30 792.5,423.30 794.0,423.30 795.5,423.30 797.0,423.30 798.5,423.30 800.0,423.30 801.5,423.30 803.0,423.30 804.5,423.30 806.0,423.30 807.5,423.30 809.0,423.30 810.5,423.30 812.0,423.30 813.5,423.30 815.0,423.30 816.5,423.30 818.0,423.30 819.5,423.30 821.0,423.30 822.5,423.30 824.0,423.30 825.5,423.30 827.0,423.30 828.5,423.30 830.0,423.30 831.5,423.30 833.0,423.30 834.5,423.30 836.0,423.30 837.5,423.30 839.0,423.30 840.5,423.30 842.0,423.30 843.5,423.30 845.0,423.30 846.5,423.30 848.0,423.30 849.5,423.30 851.0,423.30 852.5,423.30 854.0,423.30 855.5,423.30 857.0,423.30 858.5,423.30 860.0,423.30 861.5,423.30 863.0,423.30 864.5,423.30 866.0,423.30 867.5,423.30 869.0,423.30 870.5,423.30 872.0,423.30 873.5,423.30 875.0,423.30 876.5,423.30 878.0,423.30 879.5,423.30 881.0,423.30 882.5,423.30 884.0,423.30 885.5,423.30 887.0,423.30 888.5,423.30 890.0,423.30 891.5,423.30 893.0,423.30 894.5,423.30 896.0,423.30 897.5,423.30 899.0,423.30 900.5,423.30 902.0,423.30 903.5,423.30 904.7,423.30 904.7,459.90 903.5,459.62 902.0,459.26 900.5,458.91 899.0,458.56 897.5,458.21 896.0,457.85 894.5,457.49 893.0,457.13 891.5,456.76 890.0,456.39 888.5,456.02 887.0,455.65 885.5,455.27 884.0,454.90 882.5,454.52 881.0,454.14 879.5,453.76 878.0,453.38 876.5,453.00 875.0,452.63 873.5,452.25 872.0,451.88 870.5,451.51 869.0,451.14 867.5,450.77 866.0,450.40 864.5,450.04 863.0,449.67 861.5,449.30 860.0,448.93 858.5,448.55 857.0,448.16 855.5,447.77 854.0,447.37 852.5,446.96 851.0,446.53 849.5,446.09 848.0,445.62 846.5,445.15 845.0,444.67 843.5,444.19 842.0,443.71 840.5,443.24 839.0,442.77 837.5,442.32 836.0,441.89 834.5,441.48 833.0,441.10 831.5,440.74 830.0,440.39 828.5,440.06 827.0,439.74 825.5,439.43 824.0,439.13 822.5,438.83 821.0,438.54 819.5,438.25 818.0,437.97 816.5,437.69 815.0,437.42 813.5,437.14 812.0,436.86 810.5,436.59 809.0,436.32 807.5,436.05 806.0,435.79 804.5,435.53 803.0,435.28 801.5,435.02 800.0,434.77 798.5,434.52 797.0,434.27 795.5,434.01 794.0,433.76 792.5,433.50 791.0,433.24 789.5,432.98 788.0,432.71 786.5,432.44 785.0,432.17 783.5,431.90 782.0,431.63 780.5,431.36 779.0,431.10 777.5,430.84 776.0,430.59 774.5,430.35 773.0,430.12 771.5,429.90 770.0,429.69 768.5,429.48 767.0,429.28 765.5,429.08 764.0,428.89 762.5,428.70 761.0,428.51 759.5,428.33 758.0,428.16 756.5,427.98 755.0,427.82 753.5,427.65 752.0,427.49 750.5,427.34 749.0,427.18 747.5,427.02 746.0,426.87 744.5,426.71 743.0,426.55 741.5,426.39 740.0,426.24 738.5,426.09 737.0,425.94 735.5,425.79 734.0,425.64 732.5,425.50 731.0,425.37 729.5,425.24 728.0,425.11 726.5,425.00 725.0,424.88 723.5,424.78 722.0,424.68 720.5,424.59 719.0,424.51 717.5,424.44 716.0,424.37 714.5,424.27 713.0,424.18 711.5,424.09 710.0,424.00 708.5,423.93 707.0,423.86 705.5,423.80 704.0,423.76 702.5,423.32 701.0,423.30 699.5,423.30 698.0,423.30 696.5,423.30 695.0,423.30 693.5,423.30 692.0,423.30 690.5,423.30 689.0,423.30 687.5,423.30 686.0,423.30 684.5,423.30 683.0,423.30 681.5,423.30 680.0,423.30 678.5,423.30 677.0,423.30 675.5,423.30 674.0,423.30 672.5,423.30 671.0,423.30 669.5,423.30 668.0,423.30 666.5,423.30 665.0,423.30 663.5,423.30 662.0,423.30 660.5,423.30 659.0,423.30 657.5,423.30 656.0,423.30 654.5,423.30 653.0,423.30 651.5,423.30 650.0,423.30 648.5,423.30 647.0,423.30 645.5,423.30 644.0,423.30 642.5,423.30 641.0,423.30 639.5,423.30 638.0,423.30 636.5,423.30 635.0,423.30 633.5,423.30 632.0,423.30 630.5,423.30 629.0,423.30 627.5,423.30 626.0,423.30 624.5,423.30 623.0,423.30 621.5,423.30 620.0,423.30 618.5,423.30 617.0,423.30 615.5,423.30 614.0,423.30 612.5,423.30 611.0,423.30 609.5,423.30 608.0,423.30 606.5,423.30 605.0,423.30 603.5,423.30 602.0,423.30 600.5,423.30 599.0,423.30 597.5,423.30 596.0,423.30 594.5,423.30 593.0,423.30 591.5,423.30 590.0,423.30 588.5,423.30 587.0,423.30 585.5,423.30 584.0,423.30 582.5,423.30 581.0,423.30 579.5,423.30 578.0,423.30 576.5,423.30 575.0,423.30 573.5,423.30 572.0,423.30 570.5,423.30 569.0,423.30 567.5,423.30 566.0,423.30 564.5,423.30 563.0,423.30 561.5,423.30 560.0,423.30 558.5,423.30 557.0,423.30 555.5,423.30 554.0,423.30 552.5,423.30 551.0,423.30 549.5,423.30 548.0,423.30 546.5,423.30 545.0,423.30 543.5,423.30 542.0,423.30 540.5,423.30 539.0,423.30 537.5,423.30 536.0,423.30 534.5,423.30 533.0,423.30 531.5,423.30 530.0,423.30 528.5,423.30 527.0,423.30 525.5,423.30 524.0,423.30 522.5,423.30 521.0,423.30 519.5,423.30 518.0,423.30 516.5,423.30 515.0,423.30 513.5,423.30 512.0,423.30 510.5,423.30 509.0,423.30 507.5,423.30 506.0,423.30 504.5,423.30 503.0,423.30 501.5,423.30 500.0,423.30 498.5,423.30 497.0,423.30 495.5,423.30 494.0,423.30" fill="#b4687a"/>
<text x="490.8" y="678.2" text-anchor="end" font-size="10.4" fill="#6c6c6c">0%</text>
<text x="490.8" y="627.9" text-anchor="end" font-size="10.4" fill="#6c6c6c">20%</text>
<text x="490.8" y="577.5" text-anchor="end" font-size="10.4" fill="#6c6c6c">40%</text>
<text x="490.8" y="527.2" text-anchor="end" font-size="10.4" fill="#6c6c6c">60%</text>
<text x="490.8" y="476.8" text-anchor="end" font-size="10.4" fill="#6c6c6c">80%</text>
<text x="490.8" y="426.5" text-anchor="end" font-size="10.4" fill="#6c6c6c">100%</text>
<text x="494.0" y="688" text-anchor="middle" font-size="9.6" fill="#6e6e6e">1750</text>
<text x="570.3" y="688" text-anchor="middle" font-size="9.6" fill="#6e6e6e">1800</text>
<text x="646.7" y="688" text-anchor="middle" font-size="9.6" fill="#6e6e6e">1850</text>
<text x="723.0" y="688" text-anchor="middle" font-size="9.6" fill="#6e6e6e">1900</text>
<text x="799.4" y="688" text-anchor="middle" font-size="9.6" fill="#6e6e6e">1950</text>
<text x="875.7" y="688" text-anchor="middle" font-size="9.6" fill="#6e6e6e">2000</text>
<text x="905" y="688" text-anchor="middle" font-size="9.6" fill="#6e6e6e">2019</text>
<line x1="905.0" y1="441.0" x2="925.0" y2="441.0" stroke="#d6d6d6" stroke-width="0.8"/>
<line x1="905.0" y1="477.5" x2="925.0" y2="477.5" stroke="#d6d6d6" stroke-width="0.8"/>
<line x1="910.0" y1="492.0" x2="925.0" y2="492.0" stroke="#d6d6d6" stroke-width="0.8"/>
<line x1="913.0" y1="501.5" x2="925.0" y2="501.5" stroke="#d6d6d6" stroke-width="0.8"/>
<line x1="908.0" y1="510.5" x2="925.0" y2="510.5" stroke="#d6d6d6" stroke-width="0.8"/>
<line x1="905.0" y1="516.0" x2="921.0" y2="516.0" stroke="#d6d6d6" stroke-width="0.8"/>
<line x1="905.0" y1="524.5" x2="916.0" y2="524.5" stroke="#d6d6d6" stroke-width="0.8"/>
<line x1="916.0" y1="524.5" x2="916.0" y2="534.0" stroke="#d6d6d6" stroke-width="0.8"/>
<line x1="916.0" y1="534.0" x2="925.0" y2="534.0" stroke="#d6d6d6" stroke-width="0.8"/>
<line x1="905.0" y1="561.0" x2="925.0" y2="561.0" stroke="#d6d6d6" stroke-width="0.8"/>
<line x1="905.0" y1="615.5" x2="925.0" y2="615.5" stroke="#d6d6d6" stroke-width="0.8"/>
<line x1="905.0" y1="656.5" x2="925.0" y2="656.5" stroke="#d6d6d6" stroke-width="0.8"/>
<text x="927.5" y="439.3" font-size="8.3" fill="#a4637a">Asia (excl</text>
<text x="927.5" y="448.4" font-size="8.3" fill="#a4637a">&amp; India)</text>
<text x="927.5" y="480.0" font-size="8.3" fill="#cf5f72">China</text>
<text x="927.5" y="494.5" font-size="8.3" fill="#e3cf7a">India</text>
<text x="927.5" y="504.0" font-size="8.3" fill="#5b62a3">Africa</text>
<text x="927.5" y="513.3" font-size="8.3" fill="#8784ad">Oceania</text>
<text x="927.5" y="522.5" font-size="8.3" fill="#d9a0ad">South Am</text>
<text x="927.5" y="532.0" font-size="8.3" fill="#5f9f80">North Am</text>
<text x="927.5" y="541.0" font-size="8.3" fill="#5f9f80">(excl. USA)</text>
<text x="927.5" y="563.5" font-size="8.3" fill="#5f9aa6">United St</text>
<text x="927.5" y="618.5" font-size="8.3" fill="#b9a58f">EU-27</text>
<text x="927.5" y="655.5" font-size="8.3" fill="#e39a6c">Europe (e</text>
<text x="927.5" y="664.0" font-size="8.3" fill="#e39a6c">EU-27)</text>
<text x="961.5" y="531.5" font-size="4.6" fill="#5f9f80">erica</text>
<text x="960.5" y="561.5" font-size="4.6" fill="#5f9aa6">ates</text>
<text x="976.7" y="443.5" font-size="12.2" font-weight="700" fill="#b05a70" textLength="71.6" lengthAdjust="spacingAndGlyphs">其他亚洲国家</text>
<text x="977.0" y="474.5" font-size="12.2" font-weight="700" fill="#d95a6a" textLength="53.0" lengthAdjust="spacingAndGlyphs">中国 13%</text>
<text x="977.0" y="493.5" font-size="12.2" font-weight="700" fill="#f0c93a" textLength="45.5" lengthAdjust="spacingAndGlyphs">印度 3%</text>
<text x="977.0" y="521.2" font-size="12.2" font-weight="700" fill="#e48e9e" textLength="35.5" lengthAdjust="spacingAndGlyphs">南美洲</text>
<text x="977.0" y="547.0" font-size="12.2" font-weight="700" fill="#5cb86a" textLength="83.8" lengthAdjust="spacingAndGlyphs">其他北美洲国家</text>
<text x="976.7" y="578.0" font-size="12.2" font-weight="700" fill="#4fa3ad" textLength="53.7" lengthAdjust="spacingAndGlyphs">美国 25%</text>
<text x="974.7" y="617.5" font-size="12.2" font-weight="500" fill="#d2b292" textLength="49.3" lengthAdjust="spacingAndGlyphs">欧盟22%</text>
<text x="975.7" y="654.2" font-size="12.2" font-weight="700" fill="#ec8f5a" textLength="71.3" lengthAdjust="spacingAndGlyphs">其他欧洲国家</text>
</svg>
<div style="position:absolute;left:319px;top:458.9px;width:8.6px;height:8.6px;background:#4a76be"></div>
<div class="lg" style="left:334px;top:455.0px;font-size:17.5px;color:#5c5c5c;font-weight:400">中国</div>
<div class="lg" style="left:383px;top:458.2px;font-size:13px;color:#333">China</div>
<div style="position:absolute;left:319px;top:490.4px;width:8.6px;height:8.6px;background:#ec7d34"></div>
<div class="lg" style="left:334px;top:486.5px;font-size:17.5px;color:#5c5c5c;font-weight:400">美国</div>
<div class="lg" style="left:383px;top:488.6px;font-size:13px;color:#333">USA</div>
<div style="position:absolute;left:319px;top:520.9px;width:8.6px;height:8.6px;background:#a6a6a6"></div>
<div class="lg" style="left:334px;top:517.0px;font-size:17.5px;color:#5c5c5c;font-weight:400">欧洲</div>
<div class="lg" style="left:383px;top:518.7px;font-size:13px;color:#333">EU</div>
<div style="position:absolute;left:319px;top:552.2px;width:8.6px;height:8.6px;background:#fbc12d"></div>
<div class="lg" style="left:334px;top:548.3px;font-size:17.5px;color:#5c5c5c;font-weight:400">日本</div>
<div class="lg" style="left:383px;top:548.4px;font-size:13px;color:#333">Japan</div>
<div style="position:absolute;left:319px;top:583.1px;width:8.6px;height:8.6px;background:#5c9bd5"></div>
<div class="lg" style="left:334px;top:579.2px;font-size:17.5px;color:#5c5c5c;font-weight:400">俄罗斯</div>
<div class="lg" style="left:383px;top:578.6px;font-size:13px;color:#333">Russia</div>
<div style="position:absolute;left:319px;top:613.7px;width:8.6px;height:8.6px;background:#70ad47"></div>
<div class="lg" style="left:334px;top:609.8px;font-size:17.5px;color:#5c5c5c;font-weight:400">印度</div>
<div class="lg" style="left:383px;top:609.0px;font-size:13px;color:#333">India</div>
<div style="position:absolute;left:319px;top:645.2px;width:8.6px;height:8.6px;background:#2b4a7e"></div>
<div class="lg" style="left:334px;top:641.3px;font-size:17.5px;color:#5c5c5c;font-weight:400">其他</div>
<div class="lg" style="left:383px;top:638.9px;font-size:13px;color:#333">Others</div>
<div class="bul" style="left:32.4px;top:125.3px"></div>
<div class="bul" style="left:32.4px;top:320.2px;width:17.4px;height:17px;border-width:3.3px;border-color:#b85f63"></div>
<h1 id="t1_0" class="ln red" style="left:29.50px;top:32.00px;font-size:32px;--ls:1.178px;word-spacing:0.000px">1-我国实现碳达峰碳中和面临严峻挑战</h1>
<h2 id="t2_0" class="ln red" style="left:29.50px;top:69.70px;font-size:28px;--ls:0.228px;word-spacing:0.000px">Domestic challenges of carbon peak and carbon neutrality</h2>
<div id="l1_0" class="ln blue" style="left:71.00px;top:123.00px;font-size:27px;--ls:0.300px;word-spacing:0.000px">碳排放总量大。</div>
<div id="l1_1" class="ln blk" style="left:260.80px;top:125.00px;font-size:24px;--ls:0.188px;word-spacing:0.000px">中国是世界最大的能源生产国和消费国。<span class="dg">2020</span>年，能源碳排放<span class="dg">99</span>亿吨、占</div>
<div id="l2_0" class="ln blk" style="left:70.80px;top:163.50px;font-size:24px;--ls:1.108px;word-spacing:0.000px">全球<span class="dg">31%</span>。<span class="dg">1750</span>年以来，能源累计碳排放<span class="dg">2100</span>亿吨，占全球总量的<span class="dg">13%</span>。</div>
<div id="l2_1" class="ln blue" style="left:915.40px;top:165.50px;font-size:22px;--ls:1.077px;word-spacing:0.000px">The scale of</div>
<div id="l3_0" class="ln blue" style="left:70.80px;top:198.90px;font-size:22px;--ls:0.314px;word-spacing:0.000px">carbon emissions is large.</div>
<div id="l3_1" class="ln blk" style="left:363.30px;top:201.90px;font-size:18px;--ls:0.330px;word-spacing:3.933px">China is the world's largest energy producer and consumer. &nbsp;In 2020, the</div>
<div id="l4_0" class="ln blk" style="left:70.80px;top:230.40px;font-size:18px;--ls:0.330px;word-spacing:1.673px">carbon emissions of the power section is 9.9 billion tons, accounting for 31% of the global emission. &nbsp;Since</div>
<div id="l5_0" class="ln blk" style="left:70.80px;top:258.70px;font-size:18px;--ls:0.330px;word-spacing:1.968px">1750, the carbon emissions of the energy section has been 210 billion tons, accounting for 13% of the total</div>
<div id="l6_0" class="ln blk" style="left:70.80px;top:286.00px;font-size:18px;--ls:0.196px;word-spacing:0.000px">emission.</div>
<div id="l7_0" class="ln blk" style="left:70.80px;top:318.20px;font-size:24px;--ls:0.290px;word-spacing:0.000px">我国处于工业化发展阶段，经济发展任务艰巨，电力需求还将刚性增长。</div>
<div id="l7_1" class="ln blk" style="left:848.00px;top:323.20px;font-size:18px;--ls:0.330px;word-spacing:2.513px">China is in developing</div>
<div id="l8_0" class="ln blk" style="left:70.80px;top:351.80px;font-size:18px;--ls:0.330px;word-spacing:1.526px">stage of industrialization, the task of economic development is onerous, and the power requirement will still</div>
<div id="l9_0" class="ln blk" style="left:70.80px;top:380.00px;font-size:18px;--ls:0.670px;word-spacing:0.000px">be growing.</div>
<div id="b1a_0" class="ln wht" style="left:115.00px;top:709.50px;font-size:18px;--ls:-0.091px;word-spacing:0.000px">世界主要国家年碳排放占比</div>
<div id="b1b_0" class="ln wht" style="left:55.40px;top:729.00px;font-size:15.5px;--ls:0.209px;word-spacing:0.000px">Proportion of carbon emissions in the world</div>
<div id="b2a_0" class="ln wht" style="left:543.70px;top:711.50px;font-size:18px;--ls:-0.230px;word-spacing:0.000px">世界主要国家或地区历史累计碳排放占比（能源活动）</div>
<div id="b2b_0" class="ln wht" style="left:510.00px;top:730.50px;font-size:15.5px;--ls:0.204px;word-spacing:0.000px">Proportion of &nbsp;historical carbon emissions in the world (by power)</div>
<div id="f1a_0" class="ln ft" style="left:14.50px;top:760.20px;font-size:15px;--ls:-0.102px;word-spacing:0.000px">数据源自：英国石油公司</div>
<div id="f1b_0" class="ln ft" style="left:14.20px;top:777.50px;font-size:15.5px;--ls:0.081px;word-spacing:0.000px">Source: British Petroleum ( BP)</div>
<div id="f2a_0" class="ln ft" style="left:457.80px;top:759.50px;font-size:14.5px;--ls:-0.198px;word-spacing:0.000px">数据源自：Global Carbon Project</div>
<div id="f2b_0" class="ln ft" style="left:459.00px;top:775.50px;font-size:14.5px;--ls:-0.148px;word-spacing:0.000px">Source： Global Carbon Project</div>
<div id="pg_0" class="ln pgn" style="left:1053.00px;top:779.00px;font-size:25px;--ls:0.000px;word-spacing:0.000px">5</div>
</div>
<div class="frame" style="left:0;top:0;width:1080px;height:1.7px;background:#474244"></div>
<div class="frame" style="left:0;top:0;width:2px;height:810px"></div>
<div class="frame" style="left:0;top:808px;width:1080px;height:2px"></div>
<div class="frame" style="left:1078.1px;top:0;width:1.9px;height:810px;background:#242424"></div>
</div>
</body></html>
